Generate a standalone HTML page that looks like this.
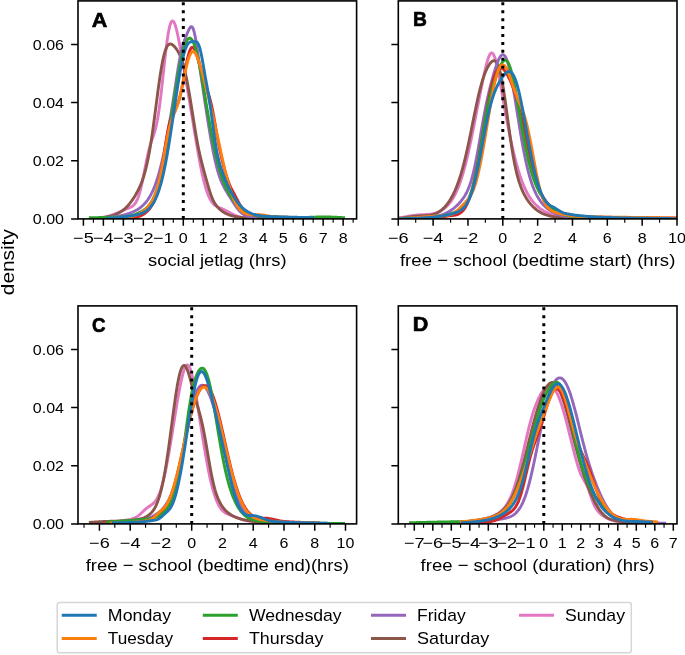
<!DOCTYPE html><html><head><meta charset="utf-8"><style>html,body{margin:0;padding:0;background:#fff;overflow:hidden}svg{display:block;will-change:transform}text{font-family:"Liberation Sans",sans-serif}</style></head><body><svg width="685" height="655" viewBox="0 0 685 655" font-family="Liberation Sans, sans-serif" fill="#000"><defs><clipPath id="cA"><rect x="78.00" y="0.90" width="278.60" height="218.00"/></clipPath><clipPath id="cB"><rect x="398.30" y="0.90" width="278.70" height="218.00"/></clipPath><clipPath id="cC"><rect x="78.00" y="305.90" width="278.60" height="218.00"/></clipPath><clipPath id="cD"><rect x="398.30" y="305.90" width="278.70" height="218.00"/></clipPath></defs><g><g clip-path="url(#cA)" fill="none" stroke-width="2.9" stroke-linejoin="round"><path d="M101.00,217.58 L101.75,217.48 L102.50,217.36 L103.25,217.24 L104.00,217.11 L104.75,216.96 L105.50,216.81 L106.25,216.65 L107.00,216.47 L107.75,216.28 L108.50,216.08 L109.25,215.87 L110.00,215.64 L110.75,215.41 L111.50,215.16 L112.25,214.90 L113.00,214.63 L113.75,214.35 L114.50,214.06 L115.25,213.76 L116.00,213.45 L116.75,213.14 L117.50,212.81 L118.25,212.49 L119.00,212.16 L119.75,211.83 L120.50,211.50 L121.25,211.17 L122.00,210.84 L122.75,210.51 L123.50,210.19 L124.25,209.88 L125.00,209.57 L125.75,209.27 L126.50,208.97 L127.25,208.68 L128.00,208.38 L128.75,208.07 L129.50,207.76 L130.25,207.42 L131.00,207.04 L131.75,206.61 L132.50,206.11 L133.25,205.51 L134.00,204.80 L134.75,203.94 L135.50,202.91 L136.25,201.68 L137.00,200.21 L137.75,198.48 L138.50,196.47 L139.25,194.17 L140.00,191.56 L140.75,188.67 L141.50,185.50 L142.25,182.08 L143.00,178.46 L143.75,174.69 L144.50,170.84 L145.25,166.97 L146.00,163.16 L146.75,159.46 L147.50,155.95 L148.25,152.65 L149.00,149.61 L149.75,146.82 L150.50,144.28 L151.25,141.94 L152.00,139.74 L152.75,137.61 L153.50,135.45 L154.25,133.17 L155.00,130.66 L155.75,127.82 L156.50,124.58 L157.25,120.86 L158.00,116.62 L158.75,111.84 L159.50,106.53 L160.25,100.72 L161.00,94.48 L161.75,87.88 L162.50,81.03 L163.25,74.04 L164.00,67.05 L164.75,60.19 L165.50,53.57 L166.25,47.34 L167.00,41.60 L167.75,36.44 L168.50,31.96 L169.25,28.20 L170.00,25.21 L170.75,23.01 L171.50,21.60 L172.25,20.97 L173.00,21.07 L173.75,21.86 L174.50,23.29 L175.25,25.28 L176.00,27.77 L176.75,30.69 L177.50,33.96 L178.25,37.52 L179.00,41.30 L179.75,45.26 L180.50,49.34 L181.25,53.51 L182.00,57.74 L182.75,62.01 L183.50,66.29 L184.25,70.59 L185.00,74.90 L185.75,79.23 L186.50,83.56 L187.25,87.92 L188.00,92.30 L188.75,96.72 L189.50,101.16 L190.25,105.64 L191.00,110.15 L191.75,114.69 L192.50,119.26 L193.25,123.83 L194.00,128.40 L194.75,132.97 L195.50,137.50 L196.25,141.98 L197.00,146.40 L197.75,150.74 L198.50,154.98 L199.25,159.10 L200.00,163.09 L200.75,166.93 L201.50,170.61 L202.25,174.12 L203.00,177.44 L203.75,180.57 L204.50,183.51 L205.25,186.24 L206.00,188.77 L206.75,191.10 L207.50,193.23 L208.25,195.17 L209.00,196.92 L209.75,198.48 L210.50,199.88 L211.25,201.11 L212.00,202.20 L212.75,203.15 L213.50,203.98 L214.25,204.69 L215.00,205.31 L215.75,205.85 L216.50,206.32 L217.25,206.73 L218.00,207.10 L218.75,207.44 L219.50,207.75 L220.25,208.06 L221.00,208.35 L221.75,208.66 L222.50,208.96 L223.25,209.28 L224.00,209.61 L224.75,209.96 L225.50,210.33 L226.25,210.70 L227.00,211.10 L227.75,211.50 L228.50,211.91 L229.25,212.32 L230.00,212.73 L230.75,213.15 L231.50,213.55 L232.25,213.95 L233.00,214.33 L233.75,214.70 L234.50,215.05 L235.25,215.38 L236.00,215.69 L236.75,215.98 L237.50,216.24 L238.25,216.48 L239.00,216.70 L239.75,216.90 L240.50,217.08 L241.25,217.24 L242.00,217.37 L242.75,217.50 L243.50,217.61 L244.25,217.70 L245.00,217.78 L245.75,217.85 L246.50,217.91 L247.25,217.96 L248.00,218.01 L248.75,218.04 L249.50,218.08 L250.25,218.11 L251.00,218.13 L251.75,218.15 L252.50,218.17 L253.25,218.19 L254.00,218.20 L254.75,218.22 L255.50,218.23 L256.25,218.24 L257.00,218.26 L257.75,218.27 L258.50,218.28 L259.25,218.29 L260.00,218.30 L260.75,218.31 L261.50,218.32 L262.25,218.33 L263.00,218.34 L263.75,218.34 L264.50,218.35 L265.25,218.36 L266.00,218.37 L266.75,218.38 L267.50,218.39 L268.25,218.40 L269.00,218.41 L269.75,218.41 L270.00,218.42" stroke="#e377c2"/><path d="M100.00,217.81 L100.75,217.75 L101.50,217.68 L102.25,217.60 L103.00,217.52 L103.75,217.43 L104.50,217.33 L105.25,217.22 L106.00,217.11 L106.75,216.98 L107.50,216.85 L108.25,216.70 L109.00,216.54 L109.75,216.37 L110.50,216.18 L111.25,215.98 L112.00,215.77 L112.75,215.54 L113.50,215.29 L114.25,215.03 L115.00,214.74 L115.75,214.44 L116.50,214.11 L117.25,213.76 L118.00,213.39 L118.75,212.99 L119.50,212.57 L120.25,212.12 L121.00,211.64 L121.75,211.14 L122.50,210.60 L123.25,210.02 L124.00,209.42 L124.75,208.77 L125.50,208.09 L126.25,207.37 L127.00,206.61 L127.75,205.81 L128.50,204.96 L129.25,204.07 L130.00,203.14 L130.75,202.17 L131.50,201.16 L132.25,200.10 L133.00,199.00 L133.75,197.85 L134.50,196.67 L135.25,195.43 L136.00,194.15 L136.75,192.82 L137.50,191.43 L138.25,189.97 L139.00,188.44 L139.75,186.82 L140.50,185.11 L141.25,183.29 L142.00,181.34 L142.75,179.24 L143.50,176.99 L144.25,174.55 L145.00,171.92 L145.75,169.08 L146.50,166.00 L147.25,162.69 L148.00,159.11 L148.75,155.27 L149.50,151.16 L150.25,146.78 L151.00,142.14 L151.75,137.24 L152.50,132.12 L153.25,126.78 L154.00,121.28 L154.75,115.63 L155.50,109.89 L156.25,104.12 L157.00,98.35 L157.75,92.66 L158.50,87.09 L159.25,81.71 L160.00,76.57 L160.75,71.72 L161.50,67.20 L162.25,63.06 L163.00,59.32 L163.75,56.00 L164.50,53.12 L165.25,50.67 L166.00,48.64 L166.75,47.02 L167.50,45.78 L168.25,44.90 L169.00,44.33 L169.75,44.05 L170.50,44.01 L171.25,44.19 L172.00,44.53 L172.75,45.03 L173.50,45.65 L174.25,46.38 L175.00,47.20 L175.75,48.12 L176.50,49.13 L177.25,50.25 L178.00,51.47 L178.75,52.83 L179.50,54.33 L180.25,56.00 L181.00,57.86 L181.75,59.92 L182.50,62.20 L183.25,64.71 L184.00,67.46 L184.75,70.46 L185.50,73.70 L186.25,77.19 L187.00,80.91 L187.75,84.85 L188.50,88.98 L189.25,93.30 L190.00,97.76 L190.75,102.34 L191.50,107.02 L192.25,111.74 L193.00,116.49 L193.75,121.21 L194.50,125.88 L195.25,130.45 L196.00,134.89 L196.75,139.17 L197.50,143.26 L198.25,147.15 L199.00,150.83 L199.75,154.30 L200.50,157.58 L201.25,160.68 L202.00,163.65 L202.75,166.52 L203.50,169.32 L204.25,172.08 L205.00,174.82 L205.75,177.55 L206.50,180.27 L207.25,182.95 L208.00,185.58 L208.75,188.13 L209.50,190.56 L210.25,192.86 L211.00,195.00 L211.75,196.97 L212.50,198.77 L213.25,200.40 L214.00,201.86 L214.75,203.18 L215.50,204.37 L216.25,205.43 L217.00,206.40 L217.75,207.28 L218.50,208.09 L219.25,208.83 L220.00,209.51 L220.75,210.14 L221.50,210.73 L222.25,211.27 L223.00,211.78 L223.75,212.26 L224.50,212.70 L225.25,213.11 L226.00,213.50 L226.75,213.86 L227.50,214.19 L228.25,214.50 L229.00,214.79 L229.75,215.07 L230.50,215.32 L231.25,215.55 L232.00,215.77 L232.75,215.97 L233.50,216.16 L234.25,216.33 L235.00,216.49 L235.75,216.64 L236.50,216.77 L237.25,216.90 L238.00,217.02 L238.75,217.12 L239.50,217.22 L240.25,217.31 L241.00,217.40 L241.75,217.47 L242.50,217.55 L243.25,217.61 L244.00,217.67 L244.75,217.72 L245.50,217.77 L246.25,217.82 L247.00,217.86 L247.75,217.90 L248.50,217.93 L249.25,217.97 L250.00,218.00 L250.75,218.02 L251.50,218.05 L252.25,218.07 L253.00,218.09 L253.75,218.11 L254.50,218.13 L255.25,218.14 L256.00,218.16 L256.75,218.17 L257.50,218.19 L258.25,218.20 L259.00,218.21 L259.75,218.22 L260.50,218.23 L261.25,218.24 L262.00,218.25 L262.75,218.26 L263.50,218.26 L264.25,218.27 L265.00,218.28 L265.75,218.28 L266.50,218.29 L267.25,218.30 L268.00,218.30 L268.75,218.31 L269.50,218.32 L270.25,218.32 L271.00,218.33 L271.75,218.33 L272.50,218.34 L273.25,218.34 L274.00,218.35 L274.75,218.35 L275.50,218.36 L276.25,218.36 L277.00,218.37 L277.75,218.37 L278.50,218.38 L279.25,218.38 L280.00,218.39" stroke="#8c564b"/><path d="M105.00,217.64 L105.75,217.59 L106.50,217.54 L107.25,217.48 L108.00,217.42 L108.75,217.36 L109.50,217.29 L110.25,217.22 L111.00,217.15 L111.75,217.07 L112.50,216.98 L113.25,216.89 L114.00,216.80 L114.75,216.70 L115.50,216.60 L116.25,216.49 L117.00,216.38 L117.75,216.25 L118.50,216.13 L119.25,215.99 L120.00,215.85 L120.75,215.70 L121.50,215.54 L122.25,215.38 L123.00,215.21 L123.75,215.03 L124.50,214.83 L125.25,214.63 L126.00,214.42 L126.75,214.20 L127.50,213.97 L128.25,213.73 L129.00,213.48 L129.75,213.21 L130.50,212.93 L131.25,212.63 L132.00,212.33 L132.75,212.00 L133.50,211.66 L134.25,211.30 L135.00,210.92 L135.75,210.52 L136.50,210.10 L137.25,209.66 L138.00,209.19 L138.75,208.70 L139.50,208.18 L140.25,207.62 L141.00,207.03 L141.75,206.41 L142.50,205.75 L143.25,205.04 L144.00,204.29 L144.75,203.50 L145.50,202.65 L146.25,201.74 L147.00,200.77 L147.75,199.74 L148.50,198.64 L149.25,197.47 L150.00,196.22 L150.75,194.88 L151.50,193.45 L152.25,191.93 L153.00,190.32 L153.75,188.59 L154.50,186.76 L155.25,184.82 L156.00,182.75 L156.75,180.56 L157.50,178.25 L158.25,175.80 L159.00,173.22 L159.75,170.50 L160.50,167.65 L161.25,164.65 L162.00,161.51 L162.75,158.23 L163.50,154.82 L164.25,151.27 L165.00,147.58 L165.75,143.77 L166.50,139.83 L167.25,135.78 L168.00,131.61 L168.75,127.34 L169.50,122.97 L170.25,118.51 L171.00,113.96 L171.75,109.33 L172.50,104.62 L173.25,99.83 L174.00,94.97 L174.75,90.06 L175.50,85.13 L176.25,80.20 L177.00,75.33 L177.75,70.57 L178.50,65.99 L179.25,61.65 L180.00,57.60 L180.75,53.90 L181.50,50.56 L182.25,47.57 L183.00,44.91 L183.75,42.53 L184.50,40.37 L185.25,38.36 L186.00,36.43 L186.75,34.56 L187.50,32.74 L188.25,30.98 L189.00,29.38 L189.75,28.02 L190.50,27.05 L191.25,26.62 L192.00,26.84 L192.75,27.83 L193.50,29.65 L194.25,32.28 L195.00,35.69 L195.75,39.75 L196.50,44.34 L197.25,49.30 L198.00,54.51 L198.75,59.82 L199.50,65.15 L200.25,70.45 L201.00,75.67 L201.75,80.81 L202.50,85.88 L203.25,90.89 L204.00,95.85 L204.75,100.76 L205.50,105.65 L206.25,110.49 L207.00,115.29 L207.75,120.03 L208.50,124.70 L209.25,129.28 L210.00,133.77 L210.75,138.13 L211.50,142.37 L212.25,146.45 L213.00,150.38 L213.75,154.13 L214.50,157.71 L215.25,161.09 L216.00,164.28 L216.75,167.28 L217.50,170.08 L218.25,172.68 L219.00,175.09 L219.75,177.33 L220.50,179.39 L221.25,181.29 L222.00,183.05 L222.75,184.68 L223.50,186.20 L224.25,187.63 L225.00,188.98 L225.75,190.28 L226.50,191.53 L227.25,192.75 L228.00,193.96 L228.75,195.16 L229.50,196.36 L230.25,197.56 L231.00,198.76 L231.75,199.97 L232.50,201.17 L233.25,202.37 L234.00,203.55 L234.75,204.71 L235.50,205.83 L236.25,206.92 L237.00,207.95 L237.75,208.94 L238.50,209.86 L239.25,210.72 L240.00,211.51 L240.75,212.23 L241.50,212.89 L242.25,213.48 L243.00,214.01 L243.75,214.47 L244.50,214.89 L245.25,215.25 L246.00,215.56 L246.75,215.84 L247.50,216.07 L248.25,216.28 L249.00,216.46 L249.75,216.61 L250.50,216.74 L251.25,216.86 L252.00,216.96 L252.75,217.05 L253.50,217.13 L254.25,217.20 L255.00,217.26 L255.75,217.32 L256.50,217.37 L257.25,217.41 L258.00,217.46 L258.75,217.49 L259.50,217.53 L260.25,217.57 L261.00,217.60 L261.75,217.63 L262.50,217.65 L263.25,217.68 L264.00,217.71 L264.75,217.73 L265.50,217.75 L266.25,217.77 L267.00,217.79 L267.75,217.81 L268.50,217.83 L269.25,217.85 L270.00,217.86 L270.75,217.88 L271.50,217.89 L272.25,217.91 L273.00,217.92 L273.75,217.94 L274.50,217.95 L275.25,217.96 L276.00,217.98 L276.75,217.99 L277.50,218.00 L278.25,218.01 L279.00,218.02 L279.75,218.03 L280.50,218.05 L281.25,218.06 L282.00,218.07 L282.75,218.08 L283.50,218.09 L284.25,218.10 L285.00,218.11 L285.75,218.12 L286.50,218.13 L287.25,218.14 L288.00,218.15 L288.75,218.15 L289.50,218.16 L290.00,218.17" stroke="#9467bd"/><path d="M112.00,218.87 L112.75,218.87 L113.50,218.87 L114.25,218.86 L115.00,218.86 L115.75,218.85 L116.50,218.84 L117.25,218.83 L118.00,218.82 L118.75,218.81 L119.50,218.80 L120.25,218.79 L121.00,218.77 L121.75,218.75 L122.50,218.73 L123.25,218.71 L124.00,218.68 L124.75,218.65 L125.50,218.61 L126.25,218.57 L127.00,218.53 L127.75,218.48 L128.50,218.42 L129.25,218.35 L130.00,218.28 L130.75,218.20 L131.50,218.11 L132.25,218.01 L133.00,217.90 L133.75,217.77 L134.50,217.63 L135.25,217.47 L136.00,217.30 L136.75,217.11 L137.50,216.90 L138.25,216.67 L139.00,216.41 L139.75,216.12 L140.50,215.81 L141.25,215.47 L142.00,215.10 L142.75,214.69 L143.50,214.24 L144.25,213.75 L145.00,213.22 L145.75,212.63 L146.50,212.00 L147.25,211.31 L148.00,210.56 L148.75,209.74 L149.50,208.84 L150.25,207.85 L151.00,206.77 L151.75,205.57 L152.50,204.25 L153.25,202.78 L154.00,201.15 L154.75,199.32 L155.50,197.27 L156.25,194.99 L157.00,192.43 L157.75,189.58 L158.50,186.43 L159.25,182.96 L160.00,179.17 L160.75,175.07 L161.50,170.69 L162.25,166.06 L163.00,161.25 L163.75,156.31 L164.50,151.33 L165.25,146.39 L166.00,141.59 L166.75,136.99 L167.50,132.70 L168.25,128.75 L169.00,125.21 L169.75,122.10 L170.50,119.40 L171.25,117.11 L172.00,115.17 L172.75,113.51 L173.50,112.07 L174.25,110.76 L175.00,109.47 L175.75,108.14 L176.50,106.66 L177.25,104.98 L178.00,103.03 L178.75,100.78 L179.50,98.21 L180.25,95.30 L181.00,92.07 L181.75,88.55 L182.50,84.79 L183.25,80.84 L184.00,76.77 L184.75,72.66 L185.50,68.60 L186.25,64.68 L187.00,60.99 L187.75,57.61 L188.50,54.61 L189.25,52.08 L190.00,50.06 L190.75,48.58 L191.50,47.66 L192.25,47.31 L193.00,47.50 L193.75,48.20 L194.50,49.37 L195.25,50.95 L196.00,52.88 L196.75,55.09 L197.50,57.52 L198.25,60.12 L199.00,62.83 L199.75,65.61 L200.50,68.41 L201.25,71.20 L202.00,73.95 L202.75,76.64 L203.50,79.23 L204.25,81.71 L205.00,84.09 L205.75,86.36 L206.50,88.54 L207.25,90.68 L208.00,92.83 L208.75,95.06 L209.50,97.45 L210.25,100.08 L211.00,102.99 L211.75,106.24 L212.50,109.81 L213.25,113.68 L214.00,117.81 L214.75,122.10 L215.50,126.47 L216.25,130.85 L217.00,135.15 L217.75,139.32 L218.50,143.33 L219.25,147.16 L220.00,150.80 L220.75,154.27 L221.50,157.58 L222.25,160.73 L223.00,163.75 L223.75,166.64 L224.50,169.41 L225.25,172.06 L226.00,174.57 L226.75,176.96 L227.50,179.20 L228.25,181.31 L229.00,183.27 L229.75,185.09 L230.50,186.77 L231.25,188.35 L232.00,189.84 L232.75,191.27 L233.50,192.67 L234.25,194.06 L235.00,195.46 L235.75,196.88 L236.50,198.33 L237.25,199.78 L238.00,201.22 L238.75,202.62 L239.50,203.97 L240.25,205.23 L241.00,206.40 L241.75,207.47 L242.50,208.43 L243.25,209.28 L244.00,210.05 L244.75,210.73 L245.50,211.33 L246.25,211.87 L247.00,212.36 L247.75,212.79 L248.50,213.19 L249.25,213.54 L250.00,213.87 L250.75,214.16 L251.50,214.43 L252.25,214.68 L253.00,214.90 L253.75,215.10 L254.50,215.28 L255.25,215.45 L256.00,215.60 L256.75,215.73 L257.50,215.85 L258.25,215.97 L259.00,216.07 L259.75,216.16 L260.50,216.24 L261.25,216.32 L262.00,216.38 L262.75,216.45 L263.50,216.50 L264.25,216.56 L265.00,216.60 L265.75,216.65 L266.50,216.69 L267.25,216.73 L268.00,216.76 L268.75,216.80 L269.50,216.83 L270.25,216.86 L271.00,216.89 L271.75,216.92 L272.50,216.94 L273.25,216.97 L274.00,216.99 L274.75,217.02 L275.50,217.04 L276.25,217.07 L277.00,217.09 L277.75,217.11 L278.50,217.14 L279.25,217.16 L280.00,217.18 L280.75,217.20 L281.50,217.23 L282.25,217.25 L283.00,217.27 L283.75,217.30 L284.50,217.32 L285.25,217.34 L286.00,217.37 L286.75,217.39 L287.50,217.41 L288.25,217.44 L289.00,217.46 L289.75,217.48 L290.50,217.51 L291.25,217.53 L292.00,217.56 L292.75,217.58 L293.50,217.60 L294.25,217.63 L295.00,217.65 L295.75,217.67 L296.50,217.70 L297.25,217.72 L298.00,217.74 L298.75,217.77 L299.50,217.79 L300.00,217.81" stroke="#d62728"/><path d="M88.80,217.84 L89.55,217.82 L90.30,217.79 L91.05,217.77 L91.80,217.75 L92.55,217.73 L93.30,217.71 L94.05,217.69 L94.80,217.67 L95.55,217.65 L96.30,217.63 L97.05,217.61 L97.80,217.59 L98.55,217.57 L99.30,217.55 L100.05,217.53 L100.80,217.51 L101.55,217.49 L102.30,217.47 L103.05,217.45 L103.80,217.44 L104.55,217.42 L105.30,217.40 L106.05,217.38 L106.80,217.37 L107.55,217.35 L108.30,217.34 L109.05,217.32 L109.80,217.31 L110.55,217.29 L111.30,217.28 L112.05,217.26 L112.80,217.25 L113.55,217.23 L114.30,217.21 L115.05,217.20 L115.80,217.18 L116.55,217.16 L117.30,217.14 L118.05,217.12 L118.80,217.10 L119.55,217.07 L120.30,217.03 L121.05,217.00 L121.80,216.96 L122.55,216.91 L123.30,216.85 L124.05,216.79 L124.80,216.71 L125.55,216.63 L126.30,216.53 L127.05,216.42 L127.80,216.30 L128.55,216.17 L129.30,216.02 L130.05,215.86 L130.80,215.68 L131.55,215.48 L132.30,215.27 L133.05,215.04 L133.80,214.80 L134.55,214.54 L135.30,214.27 L136.05,213.98 L136.80,213.67 L137.55,213.36 L138.30,213.03 L139.05,212.68 L139.80,212.32 L140.55,211.94 L141.30,211.54 L142.05,211.11 L142.80,210.67 L143.55,210.19 L144.30,209.68 L145.05,209.13 L145.80,208.53 L146.55,207.89 L147.30,207.18 L148.05,206.41 L148.80,205.56 L149.55,204.63 L150.30,203.60 L151.05,202.48 L151.80,201.25 L152.55,199.90 L153.30,198.43 L154.05,196.83 L154.80,195.09 L155.55,193.20 L156.30,191.16 L157.05,188.97 L157.80,186.62 L158.55,184.10 L159.30,181.42 L160.05,178.57 L160.80,175.56 L161.55,172.38 L162.30,169.03 L163.05,165.52 L163.80,161.85 L164.55,158.02 L165.30,154.05 L166.05,149.94 L166.80,145.69 L167.55,141.33 L168.30,136.85 L169.05,132.28 L169.80,127.62 L170.55,122.89 L171.30,118.11 L172.05,113.29 L172.80,108.45 L173.55,103.62 L174.30,98.80 L175.05,94.03 L175.80,89.32 L176.55,84.69 L177.30,80.16 L178.05,75.77 L178.80,71.52 L179.55,67.45 L180.30,63.56 L181.05,59.89 L181.80,56.45 L182.55,53.25 L183.30,50.33 L184.05,47.69 L184.80,45.35 L185.55,43.32 L186.30,41.61 L187.05,40.24 L187.80,39.20 L188.55,38.51 L189.30,38.17 L190.05,38.18 L190.80,38.54 L191.55,39.24 L192.30,40.29 L193.05,41.66 L193.80,43.37 L194.55,45.38 L195.30,47.69 L196.05,50.29 L196.80,53.16 L197.55,56.27 L198.30,59.62 L199.05,63.18 L199.80,66.93 L200.55,70.85 L201.30,74.92 L202.05,79.11 L202.80,83.40 L203.55,87.78 L204.30,92.21 L205.05,96.69 L205.80,101.18 L206.55,105.66 L207.30,110.13 L208.05,114.56 L208.80,118.93 L209.55,123.23 L210.30,127.45 L211.05,131.57 L211.80,135.58 L212.55,139.48 L213.30,143.26 L214.05,146.91 L214.80,150.42 L215.55,153.80 L216.30,157.04 L217.05,160.13 L217.80,163.09 L218.55,165.91 L219.30,168.60 L220.05,171.15 L220.80,173.58 L221.55,175.89 L222.30,178.07 L223.05,180.15 L223.80,182.11 L224.55,183.98 L225.30,185.75 L226.05,187.43 L226.80,189.03 L227.55,190.54 L228.30,191.99 L229.05,193.37 L229.80,194.68 L230.55,195.93 L231.30,197.12 L232.05,198.27 L232.80,199.36 L233.55,200.40 L234.30,201.40 L235.05,202.36 L235.80,203.27 L236.55,204.14 L237.30,204.98 L238.05,205.77 L238.80,206.53 L239.55,207.25 L240.30,207.94 L241.05,208.59 L241.80,209.20 L242.55,209.78 L243.30,210.33 L244.05,210.85 L244.80,211.33 L245.55,211.78 L246.30,212.21 L247.05,212.60 L247.80,212.97 L248.55,213.31 L249.30,213.63 L250.05,213.92 L250.80,214.18 L251.55,214.43 L252.30,214.66 L253.05,214.87 L253.80,215.06 L254.55,215.23 L255.30,215.39 L256.05,215.53 L256.80,215.67 L257.55,215.79 L258.30,215.90 L259.05,216.00 L259.80,216.09 L260.55,216.18 L261.30,216.26 L262.05,216.33 L262.80,216.40 L263.55,216.47 L264.30,216.53 L265.05,216.58 L265.80,216.64 L266.55,216.69 L267.30,216.73 L268.05,216.78 L268.80,216.83 L269.55,216.87 L270.30,216.91 L271.05,216.95 L271.80,216.99 L272.55,217.03 L273.30,217.07 L274.05,217.10 L274.80,217.14 L275.55,217.17 L276.30,217.21 L277.05,217.24 L277.80,217.27 L278.55,217.30 L279.30,217.33 L280.05,217.36 L280.80,217.39 L281.55,217.41 L282.30,217.44 L283.05,217.46 L283.80,217.49 L284.55,217.51 L285.30,217.53 L286.05,217.54 L286.80,217.56 L287.55,217.58 L288.30,217.59 L289.05,217.60 L289.80,217.61 L290.55,217.62 L291.30,217.63 L292.05,217.63 L292.80,217.64 L293.55,217.64 L294.30,217.64 L295.05,217.63 L295.80,217.63 L296.55,217.62 L297.30,217.62 L298.05,217.61 L298.80,217.60 L299.55,217.58 L300.30,217.57 L301.05,217.55 L301.80,217.54 L302.55,217.52 L303.30,217.50 L304.05,217.48 L304.80,217.46 L305.55,217.43 L306.30,217.41 L307.05,217.38 L307.80,217.36 L308.55,217.33 L309.30,217.31 L310.05,217.28 L310.80,217.26 L311.55,217.23 L312.30,217.21 L313.05,217.18 L313.80,217.16 L314.55,217.14 L315.30,217.11 L316.05,217.09 L316.80,217.07 L317.55,217.06 L318.30,217.04 L319.05,217.02 L319.80,217.01 L320.55,217.00 L321.30,216.99 L322.05,216.98 L322.80,216.97 L323.55,216.97 L324.30,216.97 L325.05,216.97 L325.80,216.98 L326.55,216.98 L327.30,216.99 L328.05,217.00 L328.80,217.01 L329.55,217.03 L330.30,217.05 L331.05,217.07 L331.80,217.09 L332.55,217.12 L333.30,217.14 L334.05,217.17 L334.80,217.20 L335.55,217.23 L336.30,217.27 L337.05,217.30 L337.80,217.34 L338.55,217.38 L339.30,217.42 L340.05,217.46 L340.80,217.50 L341.55,217.54 L342.30,217.59 L343.05,217.63 L343.80,217.67 L344.55,217.72 L345.00,217.74" stroke="#2ca02c"/><path d="M106.00,218.41 L106.75,218.40 L107.50,218.39 L108.25,218.37 L109.00,218.36 L109.75,218.34 L110.50,218.32 L111.25,218.30 L112.00,218.28 L112.75,218.26 L113.50,218.24 L114.25,218.21 L115.00,218.19 L115.75,218.16 L116.50,218.13 L117.25,218.10 L118.00,218.06 L118.75,218.02 L119.50,217.98 L120.25,217.93 L121.00,217.88 L121.75,217.83 L122.50,217.77 L123.25,217.70 L124.00,217.63 L124.75,217.55 L125.50,217.46 L126.25,217.37 L127.00,217.27 L127.75,217.15 L128.50,217.03 L129.25,216.90 L130.00,216.75 L130.75,216.60 L131.50,216.42 L132.25,216.24 L133.00,216.04 L133.75,215.82 L134.50,215.58 L135.25,215.32 L136.00,215.05 L136.75,214.75 L137.50,214.43 L138.25,214.08 L139.00,213.71 L139.75,213.31 L140.50,212.89 L141.25,212.44 L142.00,211.95 L142.75,211.43 L143.50,210.88 L144.25,210.30 L145.00,209.67 L145.75,209.01 L146.50,208.30 L147.25,207.55 L148.00,206.75 L148.75,205.89 L149.50,204.96 L150.25,203.97 L151.00,202.89 L151.75,201.71 L152.50,200.43 L153.25,199.02 L154.00,197.46 L154.75,195.74 L155.50,193.84 L156.25,191.72 L157.00,189.38 L157.75,186.79 L158.50,183.95 L159.25,180.84 L160.00,177.47 L160.75,173.86 L161.50,170.01 L162.25,165.97 L163.00,161.77 L163.75,157.47 L164.50,153.12 L165.25,148.80 L166.00,144.56 L166.75,140.47 L167.50,136.58 L168.25,132.94 L169.00,129.59 L169.75,126.54 L170.50,123.80 L171.25,121.33 L172.00,119.12 L172.75,117.10 L173.50,115.23 L174.25,113.44 L175.00,111.65 L175.75,109.81 L176.50,107.85 L177.25,105.72 L178.00,103.38 L178.75,100.82 L179.50,98.02 L180.25,94.98 L181.00,91.74 L181.75,88.33 L182.50,84.79 L183.25,81.17 L184.00,77.54 L184.75,73.95 L185.50,70.47 L186.25,67.15 L187.00,64.05 L187.75,61.22 L188.50,58.70 L189.25,56.53 L190.00,54.74 L190.75,53.33 L191.50,52.33 L192.25,51.73 L193.00,51.53 L193.75,51.72 L194.50,52.28 L195.25,53.19 L196.00,54.42 L196.75,55.93 L197.50,57.71 L198.25,59.72 L199.00,61.93 L199.75,64.31 L200.50,66.82 L201.25,69.45 L202.00,72.17 L202.75,74.96 L203.50,77.80 L204.25,80.68 L205.00,83.60 L205.75,86.54 L206.50,89.50 L207.25,92.49 L208.00,95.49 L208.75,98.52 L209.50,101.58 L210.25,104.66 L211.00,107.78 L211.75,110.94 L212.50,114.14 L213.25,117.38 L214.00,120.67 L214.75,124.00 L215.50,127.37 L216.25,130.77 L217.00,134.21 L217.75,137.67 L218.50,141.14 L219.25,144.62 L220.00,148.09 L220.75,151.55 L221.50,154.99 L222.25,158.39 L223.00,161.73 L223.75,165.02 L224.50,168.23 L225.25,171.37 L226.00,174.41 L226.75,177.35 L227.50,180.18 L228.25,182.91 L229.00,185.51 L229.75,187.99 L230.50,190.34 L231.25,192.57 L232.00,194.66 L232.75,196.63 L233.50,198.47 L234.25,200.18 L235.00,201.77 L235.75,203.24 L236.50,204.60 L237.25,205.84 L238.00,206.98 L238.75,208.01 L239.50,208.95 L240.25,209.80 L241.00,210.55 L241.75,211.23 L242.50,211.83 L243.25,212.36 L244.00,212.82 L244.75,213.22 L245.50,213.56 L246.25,213.85 L247.00,214.09 L247.75,214.29 L248.50,214.44 L249.25,214.56 L250.00,214.64 L250.75,214.70 L251.50,214.73 L252.25,214.74 L253.00,214.74 L253.75,214.73 L254.50,214.71 L255.25,214.69 L256.00,214.67 L256.75,214.66 L257.50,214.65 L258.25,214.66 L259.00,214.67 L259.75,214.71 L260.50,214.75 L261.25,214.82 L262.00,214.90 L262.75,214.99 L263.50,215.09 L264.25,215.20 L265.00,215.32 L265.75,215.45 L266.50,215.58 L267.25,215.71 L268.00,215.84 L268.75,215.96 L269.50,216.08 L270.25,216.20 L271.00,216.31 L271.75,216.41 L272.50,216.50 L273.25,216.59 L274.00,216.66 L274.75,216.73 L275.50,216.79 L276.25,216.85 L277.00,216.90 L277.75,216.94 L278.50,216.98 L279.25,217.02 L280.00,217.05 L280.75,217.08 L281.50,217.11 L282.25,217.13 L283.00,217.16 L283.75,217.18 L284.50,217.20 L285.25,217.22 L286.00,217.24 L286.75,217.26 L287.50,217.28 L288.25,217.30 L289.00,217.32 L289.75,217.34 L290.50,217.36 L291.25,217.38 L292.00,217.40 L292.75,217.42 L293.50,217.44 L294.25,217.46 L295.00,217.47 L295.75,217.49 L296.50,217.51 L297.25,217.53 L298.00,217.55 L298.75,217.57 L299.50,217.59 L300.00,217.60" stroke="#ff7f0e"/><path d="M106.00,218.30 L106.75,218.26 L107.50,218.22 L108.25,218.19 L109.00,218.15 L109.75,218.10 L110.50,218.06 L111.25,218.01 L112.00,217.97 L112.75,217.92 L113.50,217.86 L114.25,217.81 L115.00,217.75 L115.75,217.69 L116.50,217.63 L117.25,217.57 L118.00,217.50 L118.75,217.43 L119.50,217.36 L120.25,217.29 L121.00,217.21 L121.75,217.13 L122.50,217.05 L123.25,216.97 L124.00,216.88 L124.75,216.79 L125.50,216.69 L126.25,216.59 L127.00,216.49 L127.75,216.39 L128.50,216.28 L129.25,216.16 L130.00,216.05 L130.75,215.92 L131.50,215.80 L132.25,215.66 L133.00,215.52 L133.75,215.38 L134.50,215.22 L135.25,215.06 L136.00,214.89 L136.75,214.71 L137.50,214.52 L138.25,214.32 L139.00,214.10 L139.75,213.87 L140.50,213.62 L141.25,213.35 L142.00,213.05 L142.75,212.73 L143.50,212.39 L144.25,212.01 L145.00,211.59 L145.75,211.14 L146.50,210.64 L147.25,210.09 L148.00,209.49 L148.75,208.83 L149.50,208.10 L150.25,207.30 L151.00,206.42 L151.75,205.45 L152.50,204.39 L153.25,203.23 L154.00,201.96 L154.75,200.57 L155.50,199.06 L156.25,197.41 L157.00,195.62 L157.75,193.68 L158.50,191.59 L159.25,189.33 L160.00,186.91 L160.75,184.31 L161.50,181.53 L162.25,178.56 L163.00,175.41 L163.75,172.08 L164.50,168.56 L165.25,164.85 L166.00,160.96 L166.75,156.90 L167.50,152.67 L168.25,148.28 L169.00,143.74 L169.75,139.07 L170.50,134.28 L171.25,129.38 L172.00,124.40 L172.75,119.36 L173.50,114.28 L174.25,109.18 L175.00,104.08 L175.75,99.03 L176.50,94.03 L177.25,89.13 L178.00,84.34 L178.75,79.71 L179.50,75.24 L180.25,70.98 L181.00,66.94 L181.75,63.16 L182.50,59.65 L183.25,56.44 L184.00,53.55 L184.75,50.98 L185.50,48.75 L186.25,46.86 L187.00,45.31 L187.75,44.08 L188.50,43.15 L189.25,42.50 L190.00,42.07 L190.75,41.83 L191.50,41.70 L192.25,41.65 L193.00,41.63 L193.75,41.62 L194.50,41.62 L195.25,41.66 L196.00,41.81 L196.75,42.17 L197.50,42.86 L198.25,43.98 L199.00,45.64 L199.75,47.91 L200.50,50.78 L201.25,54.20 L202.00,58.08 L202.75,62.27 L203.50,66.61 L204.25,70.97 L205.00,75.25 L205.75,79.43 L206.50,83.51 L207.25,87.60 L208.00,91.79 L208.75,96.21 L209.50,100.94 L210.25,106.01 L211.00,111.40 L211.75,117.02 L212.50,122.75 L213.25,128.44 L214.00,133.95 L214.75,139.17 L215.50,144.00 L216.25,148.41 L217.00,152.40 L217.75,155.98 L218.50,159.22 L219.25,162.15 L220.00,164.83 L220.75,167.31 L221.50,169.63 L222.25,171.82 L223.00,173.90 L223.75,175.90 L224.50,177.82 L225.25,179.67 L226.00,181.46 L226.75,183.18 L227.50,184.85 L228.25,186.47 L229.00,188.03 L229.75,189.54 L230.50,190.99 L231.25,192.40 L232.00,193.75 L232.75,195.06 L233.50,196.32 L234.25,197.53 L235.00,198.69 L235.75,199.80 L236.50,200.87 L237.25,201.89 L238.00,202.86 L238.75,203.79 L239.50,204.67 L240.25,205.50 L241.00,206.30 L241.75,207.05 L242.50,207.76 L243.25,208.43 L244.00,209.06 L244.75,209.65 L245.50,210.21 L246.25,210.72 L247.00,211.21 L247.75,211.66 L248.50,212.08 L249.25,212.48 L250.00,212.84 L250.75,213.17 L251.50,213.49 L252.25,213.77 L253.00,214.04 L253.75,214.28 L254.50,214.51 L255.25,214.71 L256.00,214.90 L256.75,215.07 L257.50,215.23 L258.25,215.38 L259.00,215.51 L259.75,215.63 L260.50,215.74 L261.25,215.84 L262.00,215.93 L262.75,216.02 L263.50,216.09 L264.25,216.16 L265.00,216.23 L265.75,216.29 L266.50,216.34 L267.25,216.39 L268.00,216.44 L268.75,216.48 L269.50,216.52 L270.25,216.55 L271.00,216.59 L271.75,216.62 L272.50,216.65 L273.25,216.68 L274.00,216.70 L274.75,216.73 L275.50,216.75 L276.25,216.78 L277.00,216.80 L277.75,216.82 L278.50,216.84 L279.25,216.86 L280.00,216.88 L280.75,216.90 L281.50,216.92 L282.25,216.94 L283.00,216.96 L283.75,216.98 L284.50,217.00 L285.25,217.02 L286.00,217.03 L286.75,217.05 L287.50,217.07 L288.25,217.09 L289.00,217.11 L289.75,217.12 L290.50,217.14 L291.25,217.16 L292.00,217.18 L292.75,217.20 L293.50,217.22 L294.25,217.24 L295.00,217.25 L295.75,217.27 L296.50,217.29 L297.25,217.31 L298.00,217.33 L298.75,217.35 L299.50,217.37 L300.25,217.39 L301.00,217.41 L301.75,217.43 L302.50,217.45 L303.25,217.47 L304.00,217.49 L304.75,217.51 L305.50,217.53 L306.25,217.54 L307.00,217.56 L307.75,217.58 L308.50,217.60 L309.25,217.62 L310.00,217.64 L310.75,217.66 L311.50,217.68 L312.25,217.70 L313.00,217.72 L313.75,217.74 L314.00,217.75" stroke="#1f77b4"/><line x1="183.30" y1="218.90" x2="183.30" y2="0.90" stroke="#000" stroke-width="2.98" stroke-dasharray="2.98 4.93"/></g><path d="M83.40,218.90v6.9M103.38,218.90v6.9M123.36,218.90v6.9M143.34,218.90v6.9M163.32,218.90v6.9M183.30,218.90v6.9M203.28,218.90v6.9M223.26,218.90v6.9M243.24,218.90v6.9M263.22,218.90v6.9M283.20,218.90v6.9M303.18,218.90v6.9M323.16,218.90v6.9M343.14,218.90v6.9M78.00,218.90h-6.9M78.00,160.76h-6.9M78.00,102.62h-6.9M78.00,44.48h-6.9" stroke="#000" stroke-width="1.5" fill="none"/><path d="M93.39,218.90v3.8M113.37,218.90v3.8M133.35,218.90v3.8M153.33,218.90v3.8M173.31,218.90v3.8M193.29,218.90v3.8M213.27,218.90v3.8M233.25,218.90v3.8M253.23,218.90v3.8M273.21,218.90v3.8M293.19,218.90v3.8M313.17,218.90v3.8M333.15,218.90v3.8M353.13,218.90v3.8" stroke="#000" stroke-width="1.15" fill="none"/><rect x="78.00" y="0.90" width="278.60" height="218.00" fill="none" stroke="#000" stroke-width="1.6"/><text x="83.40" y="243.00" font-size="14.84" text-anchor="middle" textLength="20.64" lengthAdjust="spacingAndGlyphs">−5</text><text x="103.38" y="243.00" font-size="14.84" text-anchor="middle" textLength="20.64" lengthAdjust="spacingAndGlyphs">−4</text><text x="123.36" y="243.00" font-size="14.84" text-anchor="middle" textLength="20.64" lengthAdjust="spacingAndGlyphs">−3</text><text x="143.34" y="243.00" font-size="14.84" text-anchor="middle" textLength="20.64" lengthAdjust="spacingAndGlyphs">−2</text><text x="163.32" y="243.00" font-size="14.84" text-anchor="middle" textLength="20.64" lengthAdjust="spacingAndGlyphs">−1</text><text x="183.30" y="243.00" font-size="14.84" text-anchor="middle" textLength="8.91" lengthAdjust="spacingAndGlyphs">0</text><text x="203.28" y="243.00" font-size="14.84" text-anchor="middle" textLength="8.91" lengthAdjust="spacingAndGlyphs">1</text><text x="223.26" y="243.00" font-size="14.84" text-anchor="middle" textLength="8.91" lengthAdjust="spacingAndGlyphs">2</text><text x="243.24" y="243.00" font-size="14.84" text-anchor="middle" textLength="8.91" lengthAdjust="spacingAndGlyphs">3</text><text x="263.22" y="243.00" font-size="14.84" text-anchor="middle" textLength="8.91" lengthAdjust="spacingAndGlyphs">4</text><text x="283.20" y="243.00" font-size="14.84" text-anchor="middle" textLength="8.91" lengthAdjust="spacingAndGlyphs">5</text><text x="303.18" y="243.00" font-size="14.84" text-anchor="middle" textLength="8.91" lengthAdjust="spacingAndGlyphs">6</text><text x="323.16" y="243.00" font-size="14.84" text-anchor="middle" textLength="8.91" lengthAdjust="spacingAndGlyphs">7</text><text x="343.14" y="243.00" font-size="14.84" text-anchor="middle" textLength="8.91" lengthAdjust="spacingAndGlyphs">8</text><text x="64.00" y="224.20" font-size="14.84" text-anchor="end" textLength="31.17" lengthAdjust="spacingAndGlyphs">0.00</text><text x="64.00" y="166.06" font-size="14.84" text-anchor="end" textLength="31.17" lengthAdjust="spacingAndGlyphs">0.02</text><text x="64.00" y="107.92" font-size="14.84" text-anchor="end" textLength="31.17" lengthAdjust="spacingAndGlyphs">0.04</text><text x="64.00" y="49.78" font-size="14.84" text-anchor="end" textLength="31.17" lengthAdjust="spacingAndGlyphs">0.06</text><text x="217.30" y="266.40" font-size="16.96" text-anchor="middle" textLength="138.41" lengthAdjust="spacingAndGlyphs">social jetlag (hrs)</text><text transform="translate(91.68,26.60) scale(0.216,0.204)" font-size="100" font-weight="bold" stroke="#000" stroke-width="3.4" stroke-linejoin="round">A</text></g><g><g clip-path="url(#cB)" fill="none" stroke-width="2.9" stroke-linejoin="round"><path d="M396.30,218.17 L397.05,218.09 L397.80,218.00 L398.55,217.91 L399.30,217.81 L400.05,217.70 L400.80,217.59 L401.55,217.47 L402.30,217.35 L403.05,217.23 L403.80,217.10 L404.55,216.96 L405.30,216.83 L406.05,216.69 L406.80,216.56 L407.55,216.42 L408.30,216.28 L409.05,216.15 L409.80,216.02 L410.55,215.89 L411.30,215.77 L412.05,215.65 L412.80,215.54 L413.55,215.43 L414.30,215.33 L415.05,215.24 L415.80,215.16 L416.55,215.08 L417.30,215.01 L418.05,214.94 L418.80,214.89 L419.55,214.84 L420.30,214.79 L421.05,214.75 L421.80,214.72 L422.55,214.68 L423.30,214.65 L424.05,214.62 L424.80,214.59 L425.55,214.55 L426.30,214.51 L427.05,214.46 L427.80,214.41 L428.55,214.35 L429.30,214.27 L430.05,214.19 L430.80,214.09 L431.55,213.98 L432.30,213.85 L433.05,213.70 L433.80,213.53 L434.55,213.34 L435.30,213.13 L436.05,212.90 L436.80,212.64 L437.55,212.36 L438.30,212.05 L439.05,211.71 L439.80,211.35 L440.55,210.95 L441.30,210.52 L442.05,210.06 L442.80,209.56 L443.55,209.02 L444.30,208.45 L445.05,207.83 L445.80,207.18 L446.55,206.47 L447.30,205.72 L448.05,204.92 L448.80,204.07 L449.55,203.16 L450.30,202.19 L451.05,201.16 L451.80,200.07 L452.55,198.90 L453.30,197.67 L454.05,196.35 L454.80,194.96 L455.55,193.48 L456.30,191.91 L457.05,190.25 L457.80,188.49 L458.55,186.64 L459.30,184.68 L460.05,182.62 L460.80,180.45 L461.55,178.16 L462.30,175.77 L463.05,173.26 L463.80,170.64 L464.55,167.91 L465.30,165.06 L466.05,162.10 L466.80,159.04 L467.55,155.87 L468.30,152.60 L469.05,149.24 L469.80,145.79 L470.55,142.26 L471.30,138.65 L472.05,134.99 L472.80,131.27 L473.55,127.50 L474.30,123.70 L475.05,119.87 L475.80,116.03 L476.55,112.17 L477.30,108.31 L478.05,104.46 L478.80,100.62 L479.55,96.79 L480.30,92.99 L481.05,89.21 L481.80,85.48 L482.55,81.79 L483.30,78.18 L484.05,74.65 L484.80,71.25 L485.55,67.99 L486.30,64.93 L487.05,62.10 L487.80,59.56 L488.55,57.36 L489.30,55.55 L490.05,54.18 L490.80,53.29 L491.55,52.91 L492.30,53.07 L493.05,53.77 L493.80,55.03 L494.55,56.80 L495.30,59.07 L496.05,61.80 L496.80,64.92 L497.55,68.39 L498.30,72.15 L499.05,76.13 L499.80,80.27 L500.55,84.54 L501.30,88.87 L502.05,93.22 L502.80,97.58 L503.55,101.90 L504.30,106.17 L505.05,110.39 L505.80,114.52 L506.55,118.59 L507.30,122.57 L508.05,126.46 L508.80,130.28 L509.55,134.00 L510.30,137.63 L511.05,141.18 L511.80,144.63 L512.55,147.99 L513.30,151.25 L514.05,154.40 L514.80,157.46 L515.55,160.41 L516.30,163.25 L517.05,165.99 L517.80,168.62 L518.55,171.14 L519.30,173.55 L520.05,175.86 L520.80,178.06 L521.55,180.16 L522.30,182.16 L523.05,184.06 L523.80,185.87 L524.55,187.58 L525.30,189.21 L526.05,190.76 L526.80,192.22 L527.55,193.61 L528.30,194.92 L529.05,196.16 L529.80,197.34 L530.55,198.46 L531.30,199.52 L532.05,200.52 L532.80,201.47 L533.55,202.37 L534.30,203.22 L535.05,204.03 L535.80,204.80 L536.55,205.52 L537.30,206.21 L538.05,206.87 L538.80,207.49 L539.55,208.08 L540.30,208.64 L541.05,209.18 L541.80,209.68 L542.55,210.16 L543.30,210.62 L544.05,211.06 L544.80,211.47 L545.55,211.86 L546.30,212.23 L547.05,212.58 L547.80,212.92 L548.55,213.23 L549.30,213.53 L550.05,213.82 L550.80,214.09 L551.55,214.34 L552.30,214.58 L553.05,214.81 L553.80,215.02 L554.55,215.23 L555.30,215.42 L556.05,215.60 L556.80,215.77 L557.55,215.93 L558.30,216.08 L559.05,216.22 L559.80,216.35 L560.55,216.47 L561.30,216.59 L562.05,216.70 L562.80,216.80 L563.55,216.89 L564.30,216.98 L565.05,217.06 L565.80,217.14 L566.55,217.21 L567.30,217.28 L568.05,217.34 L568.80,217.39 L569.55,217.44 L570.30,217.48 L571.05,217.51 L571.80,217.54 L572.55,217.55 L573.30,217.55 L574.05,217.53 L574.80,217.50 L575.55,217.46 L576.30,217.41 L577.05,217.34 L577.80,217.27 L578.55,217.20 L579.30,217.13 L580.05,217.08 L580.80,217.04 L581.55,217.03 L582.30,217.03 L583.05,217.07 L583.80,217.13 L584.55,217.20 L585.30,217.30 L586.05,217.40 L586.80,217.51 L587.55,217.61 L588.30,217.71 L589.05,217.80 L589.80,217.87 L590.55,217.94 L591.30,217.99 L592.05,218.03 L592.80,218.07 L593.55,218.09 L594.30,218.11 L595.05,218.13 L595.80,218.14 L596.55,218.15 L597.30,218.16 L598.05,218.17 L598.80,218.18 L599.55,218.18 L600.30,218.19 L601.05,218.20 L601.80,218.20 L602.55,218.21 L603.30,218.22 L604.05,218.22 L604.80,218.23 L605.55,218.24 L606.30,218.24 L607.05,218.25 L607.80,218.26 L608.55,218.26 L609.30,218.27 L610.05,218.28 L610.80,218.28 L611.55,218.29 L612.30,218.30 L613.05,218.30 L613.80,218.31 L614.55,218.32 L615.30,218.33 L616.05,218.33 L616.80,218.34 L617.55,218.35 L618.30,218.35 L619.05,218.36 L619.80,218.37 L620.55,218.37 L621.30,218.38 L622.05,218.39 L622.80,218.39 L623.55,218.40 L624.30,218.41 L625.05,218.42 L625.80,218.42 L626.55,218.43 L627.30,218.44 L628.05,218.44 L628.80,218.45 L629.55,218.46 L630.30,218.46 L631.05,218.47 L631.80,218.48 L632.55,218.48 L633.30,218.49 L634.05,218.50 L634.80,218.50 L635.55,218.51 L636.30,218.52 L637.05,218.52 L637.80,218.53 L638.55,218.54 L639.30,218.54 L640.05,218.55 L640.80,218.55 L641.55,218.56 L642.30,218.57 L643.05,218.57 L643.80,218.58 L644.55,218.59 L645.30,218.59 L646.05,218.60 L646.80,218.60 L647.55,218.61 L648.30,218.61 L649.05,218.62 L649.80,218.63 L650.55,218.63 L651.30,218.64 L652.05,218.64 L652.80,218.65 L653.55,218.65 L654.30,218.66 L655.05,218.66 L655.80,218.67 L656.55,218.67 L657.30,218.68 L658.05,218.68 L658.80,218.69 L659.55,218.69 L660.30,218.70 L661.05,218.70 L661.80,218.71 L662.55,218.71 L663.30,218.72 L664.05,218.72 L664.80,218.72 L665.55,218.73 L666.30,218.73 L667.05,218.74 L667.80,218.74 L668.55,218.74 L669.30,218.75 L670.05,218.75 L670.80,218.76 L671.55,218.76 L672.30,218.76 L673.05,218.77 L673.80,218.77 L674.55,218.77 L675.30,218.78 L676.05,218.78 L676.80,218.78 L677.55,218.79 L678.30,218.79 L679.00,218.79" stroke="#e377c2"/><path d="M396.30,218.58 L397.05,218.53 L397.80,218.48 L398.55,218.42 L399.30,218.35 L400.05,218.28 L400.80,218.20 L401.55,218.12 L402.30,218.03 L403.05,217.93 L403.80,217.83 L404.55,217.73 L405.30,217.62 L406.05,217.51 L406.80,217.39 L407.55,217.28 L408.30,217.16 L409.05,217.04 L409.80,216.93 L410.55,216.82 L411.30,216.71 L412.05,216.60 L412.80,216.50 L413.55,216.41 L414.30,216.32 L415.05,216.25 L415.80,216.18 L416.55,216.11 L417.30,216.06 L418.05,216.01 L418.80,215.97 L419.55,215.93 L420.30,215.90 L421.05,215.87 L421.80,215.85 L422.55,215.82 L423.30,215.80 L424.05,215.77 L424.80,215.74 L425.55,215.70 L426.30,215.65 L427.05,215.59 L427.80,215.52 L428.55,215.44 L429.30,215.34 L430.05,215.22 L430.80,215.08 L431.55,214.91 L432.30,214.73 L433.05,214.52 L433.80,214.28 L434.55,214.01 L435.30,213.72 L436.05,213.39 L436.80,213.03 L437.55,212.64 L438.30,212.22 L439.05,211.76 L439.80,211.26 L440.55,210.73 L441.30,210.15 L442.05,209.54 L442.80,208.88 L443.55,208.18 L444.30,207.43 L445.05,206.64 L445.80,205.80 L446.55,204.91 L447.30,203.96 L448.05,202.96 L448.80,201.90 L449.55,200.78 L450.30,199.60 L451.05,198.35 L451.80,197.03 L452.55,195.64 L453.30,194.18 L454.05,192.63 L454.80,191.01 L455.55,189.29 L456.30,187.49 L457.05,185.59 L457.80,183.60 L458.55,181.50 L459.30,179.30 L460.05,177.00 L460.80,174.59 L461.55,172.06 L462.30,169.43 L463.05,166.69 L463.80,163.83 L464.55,160.86 L465.30,157.79 L466.05,154.61 L466.80,151.34 L467.55,147.97 L468.30,144.51 L469.05,140.98 L469.80,137.38 L470.55,133.73 L471.30,130.03 L472.05,126.31 L472.80,122.57 L473.55,118.83 L474.30,115.12 L475.05,111.44 L475.80,107.82 L476.55,104.26 L477.30,100.80 L478.05,97.44 L478.80,94.20 L479.55,91.08 L480.30,88.12 L481.05,85.30 L481.80,82.64 L482.55,80.14 L483.30,77.80 L484.05,75.62 L484.80,73.60 L485.55,71.73 L486.30,70.01 L487.05,68.43 L487.80,66.98 L488.55,65.67 L489.30,64.49 L490.05,63.45 L490.80,62.55 L491.55,61.79 L492.30,61.21 L493.05,60.82 L493.80,60.64 L494.55,60.71 L495.30,61.05 L496.05,61.70 L496.80,62.69 L497.55,64.06 L498.30,65.81 L499.05,67.98 L499.80,70.58 L500.55,73.61 L501.30,77.07 L502.05,80.93 L502.80,85.17 L503.55,89.76 L504.30,94.64 L505.05,99.78 L505.80,105.10 L506.55,110.56 L507.30,116.09 L508.05,121.64 L508.80,127.13 L509.55,132.53 L510.30,137.79 L511.05,142.86 L511.80,147.72 L512.55,152.34 L513.30,156.70 L514.05,160.80 L514.80,164.63 L515.55,168.19 L516.30,171.49 L517.05,174.55 L517.80,177.38 L518.55,179.99 L519.30,182.40 L520.05,184.62 L520.80,186.68 L521.55,188.60 L522.30,190.37 L523.05,192.03 L523.80,193.57 L524.55,195.02 L525.30,196.38 L526.05,197.66 L526.80,198.86 L527.55,200.00 L528.30,201.08 L529.05,202.10 L529.80,203.07 L530.55,203.99 L531.30,204.86 L532.05,205.69 L532.80,206.47 L533.55,207.21 L534.30,207.91 L535.05,208.58 L535.80,209.20 L536.55,209.80 L537.30,210.36 L538.05,210.89 L538.80,211.39 L539.55,211.85 L540.30,212.30 L541.05,212.71 L541.80,213.10 L542.55,213.46 L543.30,213.80 L544.05,214.12 L544.80,214.42 L545.55,214.70 L546.30,214.95 L547.05,215.20 L547.80,215.42 L548.55,215.63 L549.30,215.82 L550.05,216.00 L550.80,216.17 L551.55,216.32 L552.30,216.47 L553.05,216.60 L553.80,216.72 L554.55,216.83 L555.30,216.94 L556.05,217.03 L556.80,217.12 L557.55,217.20 L558.30,217.28 L559.05,217.35 L559.80,217.41 L560.55,217.47 L561.30,217.52 L562.05,217.57 L562.80,217.61 L563.55,217.65 L564.30,217.69 L565.05,217.71 L565.80,217.73 L566.55,217.75 L567.30,217.76 L568.05,217.76 L568.80,217.75 L569.55,217.73 L570.30,217.70 L571.05,217.65 L571.80,217.60 L572.55,217.54 L573.30,217.47 L574.05,217.39 L574.80,217.31 L575.55,217.23 L576.30,217.15 L577.05,217.08 L577.80,217.02 L578.55,216.98 L579.30,216.95 L580.05,216.94 L580.80,216.95 L581.55,216.99 L582.30,217.04 L583.05,217.11 L583.80,217.20 L584.55,217.29 L585.30,217.40 L586.05,217.51 L586.80,217.62 L587.55,217.72 L588.30,217.83 L589.05,217.92 L589.80,218.00 L590.55,218.08 L591.30,218.15 L592.05,218.20 L592.80,218.25 L593.55,218.29 L594.30,218.33 L595.05,218.36 L595.80,218.38 L596.55,218.40 L597.30,218.42 L598.05,218.43 L598.80,218.45 L599.55,218.46 L600.30,218.47 L601.05,218.48 L601.80,218.49 L602.55,218.50 L603.30,218.51 L604.05,218.52 L604.80,218.53 L605.55,218.54 L606.30,218.55 L607.05,218.56 L607.80,218.56 L608.55,218.57 L609.30,218.58 L610.05,218.59 L610.80,218.60 L611.55,218.61 L612.30,218.61 L613.05,218.62 L613.80,218.63 L614.55,218.64 L615.30,218.64 L616.05,218.65 L616.80,218.66 L617.55,218.66 L618.30,218.67 L619.05,218.68 L619.80,218.68 L620.55,218.69 L621.30,218.70 L622.05,218.70 L622.80,218.71 L623.55,218.72 L624.30,218.72 L625.05,218.73 L625.80,218.73 L626.55,218.74 L627.30,218.74 L628.05,218.75 L628.80,218.75 L629.55,218.76 L630.30,218.76 L631.05,218.77 L631.80,218.77 L632.55,218.78 L633.30,218.78 L634.05,218.78 L634.80,218.79 L635.55,218.79 L636.30,218.80 L637.05,218.80 L637.80,218.80 L638.55,218.81 L639.30,218.81 L640.05,218.81 L640.80,218.82 L641.55,218.82 L642.30,218.82 L643.05,218.82 L643.80,218.83 L644.55,218.83 L645.30,218.83 L646.05,218.84 L646.80,218.84 L647.55,218.84 L648.30,218.84 L649.05,218.85 L649.80,218.85 L650.55,218.85 L651.30,218.85 L652.05,218.85 L652.80,218.86 L653.55,218.86 L654.30,218.86 L655.05,218.86 L655.80,218.86 L656.55,218.86 L657.30,218.87 L658.05,218.87 L658.80,218.87 L659.55,218.87 L660.30,218.87 L661.05,218.87 L661.80,218.87 L662.55,218.87 L663.30,218.88 L664.05,218.88 L664.80,218.88 L665.55,218.88 L666.30,218.88 L667.05,218.88 L667.80,218.88 L668.55,218.88 L669.30,218.88 L670.05,218.88 L670.80,218.88 L671.55,218.89 L672.30,218.89 L673.05,218.89 L673.80,218.89 L674.55,218.89 L675.30,218.89 L676.05,218.89 L676.80,218.89 L677.55,218.89 L678.30,218.89 L679.00,218.89" stroke="#8c564b"/><path d="M396.30,218.85 L397.05,218.84 L397.80,218.83 L398.55,218.82 L399.30,218.81 L400.05,218.79 L400.80,218.78 L401.55,218.76 L402.30,218.74 L403.05,218.71 L403.80,218.68 L404.55,218.66 L405.30,218.62 L406.05,218.59 L406.80,218.55 L407.55,218.51 L408.30,218.46 L409.05,218.42 L409.80,218.37 L410.55,218.32 L411.30,218.26 L412.05,218.20 L412.80,218.15 L413.55,218.09 L414.30,218.03 L415.05,217.96 L415.80,217.90 L416.55,217.84 L417.30,217.78 L418.05,217.72 L418.80,217.66 L419.55,217.60 L420.30,217.54 L421.05,217.49 L421.80,217.43 L422.55,217.38 L423.30,217.33 L424.05,217.28 L424.80,217.23 L425.55,217.18 L426.30,217.14 L427.05,217.09 L427.80,217.04 L428.55,216.99 L429.30,216.93 L430.05,216.87 L430.80,216.81 L431.55,216.74 L432.30,216.66 L433.05,216.58 L433.80,216.49 L434.55,216.39 L435.30,216.28 L436.05,216.15 L436.80,216.02 L437.55,215.87 L438.30,215.71 L439.05,215.53 L439.80,215.34 L440.55,215.13 L441.30,214.91 L442.05,214.67 L442.80,214.41 L443.55,214.13 L444.30,213.83 L445.05,213.51 L445.80,213.18 L446.55,212.82 L447.30,212.44 L448.05,212.04 L448.80,211.62 L449.55,211.17 L450.30,210.71 L451.05,210.22 L451.80,209.71 L452.55,209.17 L453.30,208.61 L454.05,208.02 L454.80,207.40 L455.55,206.76 L456.30,206.09 L457.05,205.39 L457.80,204.66 L458.55,203.90 L459.30,203.10 L460.05,202.26 L460.80,201.38 L461.55,200.45 L462.30,199.48 L463.05,198.44 L463.80,197.34 L464.55,196.16 L465.30,194.91 L466.05,193.55 L466.80,192.09 L467.55,190.51 L468.30,188.80 L469.05,186.93 L469.80,184.91 L470.55,182.70 L471.30,180.31 L472.05,177.72 L472.80,174.92 L473.55,171.90 L474.30,168.68 L475.05,165.24 L475.80,161.61 L476.55,157.79 L477.30,153.81 L478.05,149.69 L478.80,145.46 L479.55,141.15 L480.30,136.79 L481.05,132.43 L481.80,128.09 L482.55,123.80 L483.30,119.60 L484.05,115.51 L484.80,111.54 L485.55,107.71 L486.30,104.02 L487.05,100.48 L487.80,97.07 L488.55,93.80 L489.30,90.65 L490.05,87.61 L490.80,84.67 L491.55,81.81 L492.30,79.04 L493.05,76.34 L493.80,73.72 L494.55,71.19 L495.30,68.75 L496.05,66.42 L496.80,64.23 L497.55,62.20 L498.30,60.35 L499.05,58.71 L499.80,57.31 L500.55,56.18 L501.30,55.35 L502.05,54.83 L502.80,54.65 L503.55,54.83 L504.30,55.37 L505.05,56.28 L505.80,57.57 L506.55,59.24 L507.30,61.27 L508.05,63.65 L508.80,66.38 L509.55,69.42 L510.30,72.76 L511.05,76.37 L511.80,80.22 L512.55,84.29 L513.30,88.54 L514.05,92.94 L514.80,97.47 L515.55,102.09 L516.30,106.76 L517.05,111.47 L517.80,116.18 L518.55,120.86 L519.30,125.50 L520.05,130.07 L520.80,134.55 L521.55,138.91 L522.30,143.16 L523.05,147.27 L523.80,151.24 L524.55,155.05 L525.30,158.69 L526.05,162.18 L526.80,165.50 L527.55,168.65 L528.30,171.63 L529.05,174.45 L529.80,177.12 L530.55,179.62 L531.30,181.98 L532.05,184.19 L532.80,186.27 L533.55,188.21 L534.30,190.03 L535.05,191.74 L535.80,193.34 L536.55,194.83 L537.30,196.23 L538.05,197.55 L538.80,198.78 L539.55,199.93 L540.30,201.01 L541.05,202.03 L541.80,202.98 L542.55,203.88 L543.30,204.73 L544.05,205.53 L544.80,206.28 L545.55,206.99 L546.30,207.67 L547.05,208.30 L547.80,208.90 L548.55,209.47 L549.30,210.01 L550.05,210.52 L550.80,211.00 L551.55,211.45 L552.30,211.88 L553.05,212.29 L553.80,212.67 L554.55,213.04 L555.30,213.38 L556.05,213.70 L556.80,214.00 L557.55,214.28 L558.30,214.55 L559.05,214.80 L559.80,215.03 L560.55,215.25 L561.30,215.46 L562.05,215.65 L562.80,215.82 L563.55,215.99 L564.30,216.14 L565.05,216.28 L565.80,216.41 L566.55,216.53 L567.30,216.64 L568.05,216.75 L568.80,216.84 L569.55,216.93 L570.30,217.01 L571.05,217.09 L571.80,217.17 L572.55,217.23 L573.30,217.30 L574.05,217.36 L574.80,217.42 L575.55,217.47 L576.30,217.52 L577.05,217.58 L577.80,217.62 L578.55,217.67 L579.30,217.72 L580.05,217.76 L580.80,217.80 L581.55,217.85 L582.30,217.89 L583.05,217.93 L583.80,217.96 L584.55,218.00 L585.30,218.03 L586.05,218.07 L586.80,218.10 L587.55,218.13 L588.30,218.16 L589.05,218.18 L589.80,218.21 L590.55,218.23 L591.30,218.25 L592.05,218.27 L592.80,218.29 L593.55,218.30 L594.30,218.32 L595.05,218.33 L595.80,218.34 L596.55,218.36 L597.30,218.36 L598.05,218.37 L598.80,218.38 L599.55,218.39 L600.30,218.40 L601.05,218.40 L601.80,218.41 L602.55,218.41 L603.30,218.41 L604.05,218.42 L604.80,218.42 L605.55,218.43 L606.30,218.43 L607.05,218.43 L607.80,218.43 L608.55,218.44 L609.30,218.44 L610.05,218.44 L610.80,218.44 L611.55,218.45 L612.30,218.45 L613.05,218.45 L613.80,218.45 L614.55,218.46 L615.30,218.46 L616.05,218.46 L616.80,218.46 L617.55,218.47 L618.30,218.47 L619.05,218.47 L619.80,218.48 L620.55,218.48 L621.30,218.48 L622.05,218.49 L622.80,218.49 L623.55,218.49 L624.30,218.49 L625.05,218.50 L625.80,218.50 L626.55,218.51 L627.30,218.51 L628.05,218.51 L628.80,218.52 L629.55,218.52 L630.30,218.52 L631.05,218.53 L631.80,218.53 L632.55,218.54 L633.30,218.54 L634.05,218.54 L634.80,218.55 L635.55,218.55 L636.30,218.56 L637.05,218.56 L637.80,218.56 L638.55,218.57 L639.30,218.57 L640.05,218.58 L640.80,218.58 L641.55,218.59 L642.30,218.59 L643.05,218.59 L643.80,218.60 L644.55,218.60 L645.30,218.61 L646.05,218.61 L646.80,218.62 L647.55,218.62 L648.30,218.62 L649.05,218.63 L649.80,218.63 L650.55,218.64 L651.30,218.64 L652.05,218.65 L652.80,218.65 L653.55,218.65 L654.30,218.66 L655.05,218.66 L655.80,218.67 L656.55,218.67 L657.30,218.68 L658.05,218.68 L658.80,218.68 L659.55,218.69 L660.30,218.69 L661.05,218.70 L661.80,218.70 L662.55,218.70 L663.30,218.71 L664.05,218.71 L664.80,218.72 L665.55,218.72 L666.30,218.72 L667.05,218.73 L667.80,218.73 L668.55,218.73 L669.30,218.74 L670.05,218.74 L670.80,218.75 L671.55,218.75 L672.30,218.75 L673.05,218.76 L673.80,218.76 L674.55,218.76 L675.30,218.77 L676.05,218.77 L676.80,218.77 L677.55,218.78 L678.30,218.78 L679.00,218.78" stroke="#9467bd"/><path d="M396.30,218.63 L397.05,218.63 L397.80,218.62 L398.55,218.62 L399.30,218.61 L400.05,218.61 L400.80,218.60 L401.55,218.60 L402.30,218.60 L403.05,218.59 L403.80,218.59 L404.55,218.58 L405.30,218.58 L406.05,218.57 L406.80,218.57 L407.55,218.56 L408.30,218.56 L409.05,218.55 L409.80,218.55 L410.55,218.54 L411.30,218.54 L412.05,218.53 L412.80,218.52 L413.55,218.52 L414.30,218.51 L415.05,218.51 L415.80,218.50 L416.55,218.50 L417.30,218.49 L418.05,218.48 L418.80,218.48 L419.55,218.47 L420.30,218.47 L421.05,218.46 L421.80,218.45 L422.55,218.44 L423.30,218.43 L424.05,218.43 L424.80,218.41 L425.55,218.40 L426.30,218.39 L427.05,218.38 L427.80,218.36 L428.55,218.34 L429.30,218.32 L430.05,218.29 L430.80,218.26 L431.55,218.23 L432.30,218.18 L433.05,218.14 L433.80,218.09 L434.55,218.03 L435.30,217.96 L436.05,217.88 L436.80,217.80 L437.55,217.71 L438.30,217.61 L439.05,217.51 L439.80,217.39 L440.55,217.28 L441.30,217.15 L442.05,217.03 L442.80,216.90 L443.55,216.77 L444.30,216.63 L445.05,216.51 L445.80,216.38 L446.55,216.26 L447.30,216.15 L448.05,216.04 L448.80,215.93 L449.55,215.84 L450.30,215.74 L451.05,215.65 L451.80,215.56 L452.55,215.47 L453.30,215.37 L454.05,215.25 L454.80,215.12 L455.55,214.97 L456.30,214.79 L457.05,214.57 L457.80,214.31 L458.55,213.99 L459.30,213.62 L460.05,213.18 L460.80,212.66 L461.55,212.05 L462.30,211.35 L463.05,210.55 L463.80,209.63 L464.55,208.59 L465.30,207.43 L466.05,206.12 L466.80,204.66 L467.55,203.05 L468.30,201.28 L469.05,199.34 L469.80,197.22 L470.55,194.93 L471.30,192.45 L472.05,189.79 L472.80,186.94 L473.55,183.90 L474.30,180.67 L475.05,177.27 L475.80,173.69 L476.55,169.94 L477.30,166.03 L478.05,161.97 L478.80,157.78 L479.55,153.47 L480.30,149.06 L481.05,144.57 L481.80,140.01 L482.55,135.42 L483.30,130.81 L484.05,126.22 L484.80,121.65 L485.55,117.15 L486.30,112.73 L487.05,108.42 L487.80,104.24 L488.55,100.22 L489.30,96.38 L490.05,92.74 L490.80,89.32 L491.55,86.12 L492.30,83.17 L493.05,80.48 L493.80,78.06 L494.55,75.90 L495.30,74.01 L496.05,72.39 L496.80,71.04 L497.55,69.95 L498.30,69.12 L499.05,68.53 L499.80,68.18 L500.55,68.05 L501.30,68.12 L502.05,68.40 L502.80,68.85 L503.55,69.47 L504.30,70.25 L505.05,71.16 L505.80,72.21 L506.55,73.38 L507.30,74.66 L508.05,76.04 L508.80,77.52 L509.55,79.10 L510.30,80.76 L511.05,82.52 L511.80,84.37 L512.55,86.31 L513.30,88.35 L514.05,90.48 L514.80,92.72 L515.55,95.05 L516.30,97.49 L517.05,100.04 L517.80,102.70 L518.55,105.46 L519.30,108.33 L520.05,111.31 L520.80,114.39 L521.55,117.57 L522.30,120.84 L523.05,124.18 L523.80,127.60 L524.55,131.07 L525.30,134.59 L526.05,138.13 L526.80,141.69 L527.55,145.25 L528.30,148.79 L529.05,152.29 L529.80,155.74 L530.55,159.11 L531.30,162.40 L532.05,165.59 L532.80,168.66 L533.55,171.61 L534.30,174.42 L535.05,177.08 L535.80,179.60 L536.55,181.96 L537.30,184.17 L538.05,186.24 L538.80,188.16 L539.55,189.95 L540.30,191.61 L541.05,193.15 L541.80,194.59 L542.55,195.93 L543.30,197.19 L544.05,198.37 L544.80,199.49 L545.55,200.55 L546.30,201.56 L547.05,202.52 L547.80,203.44 L548.55,204.32 L549.30,205.15 L550.05,205.95 L550.80,206.70 L551.55,207.41 L552.30,208.08 L553.05,208.70 L553.80,209.27 L554.55,209.80 L555.30,210.29 L556.05,210.74 L556.80,211.14 L557.55,211.51 L558.30,211.84 L559.05,212.14 L559.80,212.42 L560.55,212.67 L561.30,212.90 L562.05,213.11 L562.80,213.31 L563.55,213.50 L564.30,213.68 L565.05,213.85 L565.80,214.01 L566.55,214.17 L567.30,214.33 L568.05,214.48 L568.80,214.62 L569.55,214.76 L570.30,214.90 L571.05,215.04 L571.80,215.17 L572.55,215.30 L573.30,215.43 L574.05,215.55 L574.80,215.66 L575.55,215.77 L576.30,215.88 L577.05,215.98 L577.80,216.08 L578.55,216.17 L579.30,216.26 L580.05,216.34 L580.80,216.41 L581.55,216.49 L582.30,216.55 L583.05,216.62 L583.80,216.67 L584.55,216.73 L585.30,216.78 L586.05,216.82 L586.80,216.87 L587.55,216.90 L588.30,216.94 L589.05,216.97 L589.80,217.00 L590.55,217.03 L591.30,217.05 L592.05,217.08 L592.80,217.10 L593.55,217.11 L594.30,217.13 L595.05,217.15 L595.80,217.16 L596.55,217.17 L597.30,217.19 L598.05,217.20 L598.80,217.21 L599.55,217.22 L600.30,217.22 L601.05,217.23 L601.80,217.24 L602.55,217.25 L603.30,217.26 L604.05,217.26 L604.80,217.27 L605.55,217.28 L606.30,217.28 L607.05,217.29 L607.80,217.29 L608.55,217.30 L609.30,217.31 L610.05,217.31 L610.80,217.32 L611.55,217.32 L612.30,217.33 L613.05,217.34 L613.80,217.34 L614.55,217.35 L615.30,217.36 L616.05,217.36 L616.80,217.37 L617.55,217.37 L618.30,217.38 L619.05,217.39 L619.80,217.39 L620.55,217.40 L621.30,217.41 L622.05,217.41 L622.80,217.42 L623.55,217.43 L624.30,217.44 L625.05,217.44 L625.80,217.45 L626.55,217.46 L627.30,217.46 L628.05,217.47 L628.80,217.48 L629.55,217.49 L630.30,217.49 L631.05,217.50 L631.80,217.51 L632.55,217.52 L633.30,217.53 L634.05,217.53 L634.80,217.54 L635.55,217.55 L636.30,217.56 L637.05,217.56 L637.80,217.57 L638.55,217.58 L639.30,217.59 L640.05,217.60 L640.80,217.61 L641.55,217.61 L642.30,217.62 L643.05,217.63 L643.80,217.64 L644.55,217.65 L645.30,217.66 L646.05,217.66 L646.80,217.67 L647.55,217.68 L648.30,217.69 L649.05,217.70 L649.80,217.71 L650.55,217.71 L651.30,217.72 L652.05,217.73 L652.80,217.74 L653.55,217.75 L654.30,217.76 L655.05,217.77 L655.80,217.78 L656.55,217.78 L657.30,217.79 L658.05,217.80 L658.80,217.81 L659.55,217.82 L660.30,217.83 L661.05,217.84 L661.80,217.84 L662.55,217.85 L663.30,217.86 L664.05,217.87 L664.80,217.88 L665.55,217.89 L666.30,217.90 L667.05,217.91 L667.80,217.91 L668.55,217.92 L669.30,217.93 L670.05,217.94 L670.80,217.95 L671.55,217.96 L672.30,217.97 L673.05,217.98 L673.80,217.98 L674.55,217.99 L675.30,218.00 L676.05,218.01 L676.80,218.02 L677.55,218.03 L678.30,218.03 L679.00,218.04" stroke="#d62728"/><path d="M396.30,218.49 L397.05,218.48 L397.80,218.46 L398.55,218.45 L399.30,218.44 L400.05,218.42 L400.80,218.40 L401.55,218.39 L402.30,218.37 L403.05,218.36 L403.80,218.34 L404.55,218.32 L405.30,218.30 L406.05,218.29 L406.80,218.27 L407.55,218.25 L408.30,218.23 L409.05,218.21 L409.80,218.19 L410.55,218.17 L411.30,218.15 L412.05,218.13 L412.80,218.11 L413.55,218.08 L414.30,218.06 L415.05,218.04 L415.80,218.02 L416.55,217.99 L417.30,217.97 L418.05,217.94 L418.80,217.91 L419.55,217.89 L420.30,217.86 L421.05,217.83 L421.80,217.80 L422.55,217.77 L423.30,217.74 L424.05,217.70 L424.80,217.67 L425.55,217.63 L426.30,217.59 L427.05,217.55 L427.80,217.51 L428.55,217.47 L429.30,217.42 L430.05,217.37 L430.80,217.32 L431.55,217.27 L432.30,217.21 L433.05,217.15 L433.80,217.08 L434.55,217.01 L435.30,216.94 L436.05,216.86 L436.80,216.78 L437.55,216.69 L438.30,216.60 L439.05,216.50 L439.80,216.40 L440.55,216.28 L441.30,216.16 L442.05,216.04 L442.80,215.90 L443.55,215.75 L444.30,215.60 L445.05,215.44 L445.80,215.26 L446.55,215.08 L447.30,214.88 L448.05,214.67 L448.80,214.45 L449.55,214.21 L450.30,213.96 L451.05,213.69 L451.80,213.41 L452.55,213.11 L453.30,212.80 L454.05,212.46 L454.80,212.11 L455.55,211.74 L456.30,211.34 L457.05,210.92 L457.80,210.47 L458.55,210.00 L459.30,209.50 L460.05,208.96 L460.80,208.38 L461.55,207.77 L462.30,207.11 L463.05,206.39 L463.80,205.61 L464.55,204.77 L465.30,203.84 L466.05,202.83 L466.80,201.71 L467.55,200.48 L468.30,199.11 L469.05,197.60 L469.80,195.92 L470.55,194.07 L471.30,192.01 L472.05,189.75 L472.80,187.26 L473.55,184.54 L474.30,181.58 L475.05,178.37 L475.80,174.92 L476.55,171.23 L477.30,167.33 L478.05,163.21 L478.80,158.92 L479.55,154.48 L480.30,149.93 L481.05,145.29 L481.80,140.62 L482.55,135.95 L483.30,131.33 L484.05,126.79 L484.80,122.37 L485.55,118.10 L486.30,114.00 L487.05,110.10 L487.80,106.39 L488.55,102.89 L489.30,99.59 L490.05,96.49 L490.80,93.57 L491.55,90.80 L492.30,88.18 L493.05,85.69 L493.80,83.29 L494.55,80.99 L495.30,78.76 L496.05,76.60 L496.80,74.51 L497.55,72.49 L498.30,70.54 L499.05,68.69 L499.80,66.96 L500.55,65.35 L501.30,63.92 L502.05,62.67 L502.80,61.64 L503.55,60.85 L504.30,60.34 L505.05,60.12 L505.80,60.22 L506.55,60.65 L507.30,61.42 L508.05,62.53 L508.80,64.00 L509.55,65.82 L510.30,67.97 L511.05,70.44 L511.80,73.23 L512.55,76.30 L513.30,79.64 L514.05,83.21 L514.80,87.00 L515.55,90.96 L516.30,95.07 L517.05,99.30 L517.80,103.62 L518.55,107.99 L519.30,112.40 L520.05,116.81 L520.80,121.19 L521.55,125.53 L522.30,129.80 L523.05,133.98 L523.80,138.06 L524.55,142.03 L525.30,145.87 L526.05,149.57 L526.80,153.12 L527.55,156.53 L528.30,159.79 L529.05,162.89 L529.80,165.85 L530.55,168.65 L531.30,171.31 L532.05,173.82 L532.80,176.20 L533.55,178.45 L534.30,180.57 L535.05,182.57 L535.80,184.46 L536.55,186.24 L537.30,187.93 L538.05,189.52 L538.80,191.03 L539.55,192.45 L540.30,193.80 L541.05,195.08 L541.80,196.29 L542.55,197.44 L543.30,198.54 L544.05,199.58 L544.80,200.58 L545.55,201.52 L546.30,202.43 L547.05,203.29 L547.80,204.11 L548.55,204.89 L549.30,205.64 L550.05,206.36 L550.80,207.04 L551.55,207.69 L552.30,208.31 L553.05,208.90 L553.80,209.47 L554.55,210.00 L555.30,210.51 L556.05,210.99 L556.80,211.45 L557.55,211.88 L558.30,212.29 L559.05,212.68 L559.80,213.04 L560.55,213.38 L561.30,213.70 L562.05,214.00 L562.80,214.29 L563.55,214.55 L564.30,214.79 L565.05,215.01 L565.80,215.22 L566.55,215.41 L567.30,215.59 L568.05,215.75 L568.80,215.90 L569.55,216.03 L570.30,216.15 L571.05,216.26 L571.80,216.35 L572.55,216.44 L573.30,216.51 L574.05,216.58 L574.80,216.64 L575.55,216.69 L576.30,216.73 L577.05,216.77 L577.80,216.80 L578.55,216.83 L579.30,216.85 L580.05,216.87 L580.80,216.89 L581.55,216.90 L582.30,216.91 L583.05,216.92 L583.80,216.93 L584.55,216.95 L585.30,216.96 L586.05,216.97 L586.80,216.98 L587.55,216.99 L588.30,217.00 L589.05,217.02 L589.80,217.04 L590.55,217.06 L591.30,217.08 L592.05,217.10 L592.80,217.12 L593.55,217.15 L594.30,217.18 L595.05,217.21 L595.80,217.24 L596.55,217.27 L597.30,217.30 L598.05,217.34 L598.80,217.37 L599.55,217.41 L600.30,217.44 L601.05,217.48 L601.80,217.51 L602.55,217.55 L603.30,217.58 L604.05,217.62 L604.80,217.65 L605.55,217.68 L606.30,217.71 L607.05,217.74 L607.80,217.77 L608.55,217.79 L609.30,217.82 L610.05,217.84 L610.80,217.86 L611.55,217.89 L612.30,217.91 L613.05,217.92 L613.80,217.94 L614.55,217.96 L615.30,217.97 L616.05,217.98 L616.80,217.99 L617.55,218.01 L618.30,218.02 L619.05,218.02 L619.80,218.03 L620.55,218.04 L621.30,218.05 L622.05,218.05 L622.80,218.06 L623.55,218.07 L624.30,218.07 L625.05,218.08 L625.80,218.08 L626.55,218.08 L627.30,218.09 L628.05,218.09 L628.80,218.10 L629.55,218.10 L630.30,218.11 L631.05,218.11 L631.80,218.12 L632.55,218.12 L633.30,218.13 L634.05,218.13 L634.80,218.14 L635.55,218.14 L636.30,218.15 L637.05,218.16 L637.80,218.16 L638.55,218.17 L639.30,218.18 L640.05,218.18 L640.80,218.19 L641.55,218.20 L642.30,218.21 L643.05,218.22 L643.80,218.22 L644.55,218.23 L645.30,218.24 L646.05,218.25 L646.80,218.26 L647.55,218.27 L648.30,218.28 L649.05,218.29 L649.80,218.30 L650.55,218.31 L651.30,218.32 L652.05,218.33 L652.80,218.34 L653.55,218.35 L654.30,218.36 L655.05,218.37 L655.80,218.38 L656.55,218.39 L657.30,218.40 L658.05,218.41 L658.80,218.42 L659.55,218.43 L660.30,218.44 L661.05,218.45 L661.80,218.46 L662.55,218.47 L663.30,218.48 L664.05,218.49 L664.80,218.50 L665.55,218.51 L666.30,218.52 L667.05,218.53 L667.80,218.54 L668.55,218.55 L669.30,218.56 L670.05,218.57 L670.80,218.58 L671.55,218.59 L672.30,218.59 L673.05,218.60 L673.80,218.61 L674.55,218.62 L675.30,218.63 L676.05,218.64 L676.80,218.65 L677.55,218.65 L678.30,218.66 L679.00,218.67" stroke="#2ca02c"/><path d="M396.30,218.61 L397.05,218.59 L397.80,218.57 L398.55,218.55 L399.30,218.52 L400.05,218.50 L400.80,218.47 L401.55,218.44 L402.30,218.41 L403.05,218.38 L403.80,218.35 L404.55,218.32 L405.30,218.28 L406.05,218.25 L406.80,218.21 L407.55,218.17 L408.30,218.13 L409.05,218.08 L409.80,218.04 L410.55,217.99 L411.30,217.95 L412.05,217.90 L412.80,217.85 L413.55,217.80 L414.30,217.74 L415.05,217.69 L415.80,217.63 L416.55,217.58 L417.30,217.52 L418.05,217.46 L418.80,217.40 L419.55,217.34 L420.30,217.28 L421.05,217.22 L421.80,217.16 L422.55,217.10 L423.30,217.04 L424.05,216.97 L424.80,216.91 L425.55,216.85 L426.30,216.79 L427.05,216.73 L427.80,216.67 L428.55,216.61 L429.30,216.55 L430.05,216.49 L430.80,216.44 L431.55,216.38 L432.30,216.33 L433.05,216.28 L433.80,216.23 L434.55,216.18 L435.30,216.14 L436.05,216.09 L436.80,216.05 L437.55,216.01 L438.30,215.97 L439.05,215.93 L439.80,215.89 L440.55,215.86 L441.30,215.82 L442.05,215.78 L442.80,215.74 L443.55,215.69 L444.30,215.64 L445.05,215.58 L445.80,215.51 L446.55,215.42 L447.30,215.32 L448.05,215.19 L448.80,215.04 L449.55,214.86 L450.30,214.65 L451.05,214.39 L451.80,214.09 L452.55,213.75 L453.30,213.36 L454.05,212.91 L454.80,212.42 L455.55,211.88 L456.30,211.28 L457.05,210.65 L457.80,209.98 L458.55,209.27 L459.30,208.54 L460.05,207.79 L460.80,207.03 L461.55,206.27 L462.30,205.50 L463.05,204.73 L463.80,203.96 L464.55,203.19 L465.30,202.41 L466.05,201.62 L466.80,200.79 L467.55,199.92 L468.30,199.00 L469.05,197.99 L469.80,196.89 L470.55,195.68 L471.30,194.33 L472.05,192.84 L472.80,191.18 L473.55,189.35 L474.30,187.32 L475.05,185.10 L475.80,182.68 L476.55,180.05 L477.30,177.22 L478.05,174.18 L478.80,170.95 L479.55,167.52 L480.30,163.91 L481.05,160.13 L481.80,156.19 L482.55,152.10 L483.30,147.89 L484.05,143.56 L484.80,139.14 L485.55,134.65 L486.30,130.11 L487.05,125.54 L487.80,120.97 L488.55,116.41 L489.30,111.90 L490.05,107.46 L490.80,103.11 L491.55,98.89 L492.30,94.81 L493.05,90.90 L493.80,87.20 L494.55,83.71 L495.30,80.47 L496.05,77.49 L496.80,74.79 L497.55,72.39 L498.30,70.31 L499.05,68.55 L499.80,67.12 L500.55,66.03 L501.30,65.28 L502.05,64.86 L502.80,64.77 L503.55,65.01 L504.30,65.54 L505.05,66.36 L505.80,67.45 L506.55,68.79 L507.30,70.33 L508.05,72.07 L508.80,73.96 L509.55,75.98 L510.30,78.09 L511.05,80.26 L511.80,82.47 L512.55,84.68 L513.30,86.87 L514.05,89.03 L514.80,91.13 L515.55,93.17 L516.30,95.15 L517.05,97.05 L517.80,98.90 L518.55,100.71 L519.30,102.49 L520.05,104.27 L520.80,106.06 L521.55,107.91 L522.30,109.84 L523.05,111.88 L523.80,114.06 L524.55,116.39 L525.30,118.91 L526.05,121.62 L526.80,124.54 L527.55,127.66 L528.30,130.99 L529.05,134.51 L529.80,138.20 L530.55,142.04 L531.30,146.00 L532.05,150.04 L532.80,154.14 L533.55,158.26 L534.30,162.35 L535.05,166.38 L535.80,170.32 L536.55,174.13 L537.30,177.78 L538.05,181.26 L538.80,184.54 L539.55,187.60 L540.30,190.45 L541.05,193.07 L541.80,195.46 L542.55,197.63 L543.30,199.59 L544.05,201.34 L544.80,202.90 L545.55,204.28 L546.30,205.49 L547.05,206.56 L547.80,207.49 L548.55,208.30 L549.30,209.01 L550.05,209.63 L550.80,210.17 L551.55,210.65 L552.30,211.06 L553.05,211.43 L553.80,211.76 L554.55,212.06 L555.30,212.33 L556.05,212.57 L556.80,212.80 L557.55,213.01 L558.30,213.21 L559.05,213.40 L559.80,213.58 L560.55,213.75 L561.30,213.92 L562.05,214.08 L562.80,214.23 L563.55,214.38 L564.30,214.52 L565.05,214.66 L565.80,214.79 L566.55,214.92 L567.30,215.04 L568.05,215.16 L568.80,215.28 L569.55,215.39 L570.30,215.49 L571.05,215.59 L571.80,215.69 L572.55,215.78 L573.30,215.87 L574.05,215.95 L574.80,216.03 L575.55,216.10 L576.30,216.17 L577.05,216.24 L577.80,216.30 L578.55,216.36 L579.30,216.41 L580.05,216.46 L580.80,216.51 L581.55,216.56 L582.30,216.60 L583.05,216.64 L583.80,216.67 L584.55,216.71 L585.30,216.74 L586.05,216.77 L586.80,216.79 L587.55,216.82 L588.30,216.84 L589.05,216.86 L589.80,216.88 L590.55,216.90 L591.30,216.92 L592.05,216.93 L592.80,216.95 L593.55,216.96 L594.30,216.97 L595.05,216.98 L595.80,216.99 L596.55,217.00 L597.30,217.01 L598.05,217.02 L598.80,217.03 L599.55,217.04 L600.30,217.05 L601.05,217.05 L601.80,217.06 L602.55,217.07 L603.30,217.07 L604.05,217.08 L604.80,217.09 L605.55,217.09 L606.30,217.10 L607.05,217.11 L607.80,217.11 L608.55,217.12 L609.30,217.13 L610.05,217.13 L610.80,217.14 L611.55,217.14 L612.30,217.15 L613.05,217.16 L613.80,217.16 L614.55,217.17 L615.30,217.18 L616.05,217.19 L616.80,217.19 L617.55,217.20 L618.30,217.21 L619.05,217.22 L619.80,217.22 L620.55,217.23 L621.30,217.24 L622.05,217.25 L622.80,217.26 L623.55,217.26 L624.30,217.27 L625.05,217.28 L625.80,217.29 L626.55,217.30 L627.30,217.31 L628.05,217.32 L628.80,217.33 L629.55,217.34 L630.30,217.35 L631.05,217.36 L631.80,217.37 L632.55,217.38 L633.30,217.39 L634.05,217.40 L634.80,217.41 L635.55,217.42 L636.30,217.43 L637.05,217.44 L637.80,217.45 L638.55,217.46 L639.30,217.47 L640.05,217.48 L640.80,217.49 L641.55,217.50 L642.30,217.51 L643.05,217.52 L643.80,217.54 L644.55,217.55 L645.30,217.56 L646.05,217.57 L646.80,217.58 L647.55,217.59 L648.30,217.60 L649.05,217.62 L649.80,217.63 L650.55,217.64 L651.30,217.65 L652.05,217.66 L652.80,217.67 L653.55,217.68 L654.30,217.70 L655.05,217.71 L655.80,217.72 L656.55,217.73 L657.30,217.74 L658.05,217.76 L658.80,217.77 L659.55,217.78 L660.30,217.79 L661.05,217.80 L661.80,217.81 L662.55,217.83 L663.30,217.84 L664.05,217.85 L664.80,217.86 L665.55,217.87 L666.30,217.89 L667.05,217.90 L667.80,217.91 L668.55,217.92 L669.30,217.93 L670.05,217.94 L670.80,217.95 L671.55,217.97 L672.30,217.98 L673.05,217.99 L673.80,218.00 L674.55,218.01 L675.30,218.02 L676.05,218.03 L676.80,218.05 L677.55,218.06 L678.30,218.07 L679.00,218.08" stroke="#ff7f0e"/><path d="M396.30,218.71 L397.05,218.70 L397.80,218.69 L398.55,218.68 L399.30,218.67 L400.05,218.66 L400.80,218.65 L401.55,218.64 L402.30,218.63 L403.05,218.61 L403.80,218.60 L404.55,218.59 L405.30,218.57 L406.05,218.56 L406.80,218.54 L407.55,218.53 L408.30,218.51 L409.05,218.49 L409.80,218.47 L410.55,218.45 L411.30,218.43 L412.05,218.41 L412.80,218.38 L413.55,218.36 L414.30,218.33 L415.05,218.31 L415.80,218.28 L416.55,218.25 L417.30,218.22 L418.05,218.18 L418.80,218.15 L419.55,218.11 L420.30,218.08 L421.05,218.04 L421.80,218.00 L422.55,217.95 L423.30,217.91 L424.05,217.86 L424.80,217.81 L425.55,217.76 L426.30,217.70 L427.05,217.65 L427.80,217.59 L428.55,217.53 L429.30,217.46 L430.05,217.40 L430.80,217.33 L431.55,217.25 L432.30,217.18 L433.05,217.10 L433.80,217.02 L434.55,216.93 L435.30,216.85 L436.05,216.76 L436.80,216.66 L437.55,216.56 L438.30,216.46 L439.05,216.36 L439.80,216.25 L440.55,216.13 L441.30,216.02 L442.05,215.89 L442.80,215.77 L443.55,215.64 L444.30,215.51 L445.05,215.37 L445.80,215.22 L446.55,215.08 L447.30,214.92 L448.05,214.76 L448.80,214.60 L449.55,214.43 L450.30,214.25 L451.05,214.06 L451.80,213.87 L452.55,213.66 L453.30,213.45 L454.05,213.22 L454.80,212.97 L455.55,212.71 L456.30,212.43 L457.05,212.13 L457.80,211.80 L458.55,211.44 L459.30,211.04 L460.05,210.61 L460.80,210.12 L461.55,209.58 L462.30,208.99 L463.05,208.32 L463.80,207.57 L464.55,206.74 L465.30,205.81 L466.05,204.77 L466.80,203.62 L467.55,202.33 L468.30,200.91 L469.05,199.34 L469.80,197.61 L470.55,195.71 L471.30,193.64 L472.05,191.39 L472.80,188.96 L473.55,186.34 L474.30,183.54 L475.05,180.55 L475.80,177.38 L476.55,174.05 L477.30,170.56 L478.05,166.92 L478.80,163.15 L479.55,159.28 L480.30,155.32 L481.05,151.30 L481.80,147.23 L482.55,143.15 L483.30,139.08 L484.05,135.05 L484.80,131.08 L485.55,127.20 L486.30,123.42 L487.05,119.78 L487.80,116.27 L488.55,112.92 L489.30,109.74 L490.05,106.73 L490.80,103.89 L491.55,101.24 L492.30,98.76 L493.05,96.44 L493.80,94.28 L494.55,92.27 L495.30,90.39 L496.05,88.63 L496.80,86.99 L497.55,85.44 L498.30,83.98 L499.05,82.59 L499.80,81.27 L500.55,80.01 L501.30,78.81 L502.05,77.68 L502.80,76.60 L503.55,75.60 L504.30,74.67 L505.05,73.84 L505.80,73.10 L506.55,72.49 L507.30,72.01 L508.05,71.68 L508.80,71.51 L509.55,71.54 L510.30,71.77 L511.05,72.21 L511.80,72.89 L512.55,73.80 L513.30,74.97 L514.05,76.39 L514.80,78.08 L515.55,80.02 L516.30,82.22 L517.05,84.67 L517.80,87.36 L518.55,90.29 L519.30,93.42 L520.05,96.76 L520.80,100.29 L521.55,103.97 L522.30,107.79 L523.05,111.73 L523.80,115.77 L524.55,119.87 L525.30,124.02 L526.05,128.20 L526.80,132.38 L527.55,136.54 L528.30,140.66 L529.05,144.73 L529.80,148.71 L530.55,152.61 L531.30,156.40 L532.05,160.07 L532.80,163.61 L533.55,167.01 L534.30,170.27 L535.05,173.38 L535.80,176.34 L536.55,179.14 L537.30,181.78 L538.05,184.27 L538.80,186.60 L539.55,188.78 L540.30,190.81 L541.05,192.70 L541.80,194.44 L542.55,196.04 L543.30,197.51 L544.05,198.84 L544.80,200.05 L545.55,201.13 L546.30,202.09 L547.05,202.94 L547.80,203.68 L548.55,204.33 L549.30,204.89 L550.05,205.39 L550.80,205.83 L551.55,206.24 L552.30,206.63 L553.05,207.01 L553.80,207.40 L554.55,207.81 L555.30,208.24 L556.05,208.69 L556.80,209.16 L557.55,209.64 L558.30,210.11 L559.05,210.58 L559.80,211.02 L560.55,211.45 L561.30,211.83 L562.05,212.19 L562.80,212.51 L563.55,212.80 L564.30,213.06 L565.05,213.29 L565.80,213.49 L566.55,213.68 L567.30,213.85 L568.05,214.01 L568.80,214.16 L569.55,214.30 L570.30,214.43 L571.05,214.55 L571.80,214.67 L572.55,214.78 L573.30,214.89 L574.05,214.99 L574.80,215.09 L575.55,215.18 L576.30,215.27 L577.05,215.36 L577.80,215.44 L578.55,215.52 L579.30,215.60 L580.05,215.68 L580.80,215.75 L581.55,215.83 L582.30,215.90 L583.05,215.97 L583.80,216.04 L584.55,216.11 L585.30,216.18 L586.05,216.25 L586.80,216.32 L587.55,216.39 L588.30,216.45 L589.05,216.52 L589.80,216.58 L590.55,216.64 L591.30,216.70 L592.05,216.75 L592.80,216.81 L593.55,216.86 L594.30,216.91 L595.05,216.95 L595.80,217.00 L596.55,217.04 L597.30,217.08 L598.05,217.12 L598.80,217.15 L599.55,217.19 L600.30,217.22 L601.05,217.25 L601.80,217.28 L602.55,217.31 L603.30,217.34 L604.05,217.37 L604.80,217.40 L605.55,217.42 L606.30,217.45 L607.05,217.47 L607.80,217.50 L608.55,217.52 L609.30,217.54 L610.05,217.56 L610.80,217.59 L611.55,217.61 L612.30,217.63 L613.05,217.65 L613.80,217.67 L614.55,217.69 L615.30,217.71 L616.05,217.72 L616.80,217.74 L617.55,217.76 L618.30,217.78 L619.05,217.80 L619.80,217.81 L620.55,217.83 L621.30,217.85 L622.05,217.86 L622.80,217.88 L623.55,217.89 L624.30,217.91 L625.05,217.92 L625.80,217.94 L626.55,217.95 L627.30,217.97 L628.05,217.98 L628.80,218.00 L629.55,218.01 L630.30,218.03 L631.05,218.04 L631.80,218.05 L632.55,218.07 L633.30,218.08 L634.05,218.09 L634.80,218.11 L635.55,218.12 L636.30,218.13 L637.05,218.14 L637.80,218.16 L638.55,218.17 L639.30,218.18 L640.05,218.19 L640.80,218.20 L641.55,218.22 L642.30,218.23 L643.05,218.24 L643.80,218.25 L644.55,218.26 L645.30,218.27 L646.05,218.28 L646.80,218.30 L647.55,218.31 L648.30,218.32 L649.05,218.33 L649.80,218.34 L650.55,218.35 L651.30,218.36 L652.05,218.37 L652.80,218.38 L653.55,218.39 L654.30,218.40 L655.05,218.41 L655.80,218.42 L656.55,218.43 L657.30,218.43 L658.05,218.44 L658.80,218.45 L659.55,218.46 L660.30,218.47 L661.05,218.48 L661.80,218.49 L662.55,218.50 L663.30,218.50 L664.05,218.51 L664.80,218.52 L665.55,218.53 L666.30,218.54 L667.05,218.54 L667.80,218.55 L668.55,218.56 L669.30,218.57 L670.05,218.57 L670.80,218.58 L671.55,218.59 L672.30,218.59 L673.05,218.60 L673.80,218.61 L674.55,218.61 L675.30,218.62 L676.05,218.63 L676.80,218.63 L677.55,218.64 L678.30,218.64 L679.00,218.65" stroke="#1f77b4"/><line x1="502.80" y1="218.90" x2="502.80" y2="0.90" stroke="#000" stroke-width="2.98" stroke-dasharray="2.98 4.93"/></g><path d="M398.28,218.90v6.9M433.12,218.90v6.9M467.96,218.90v6.9M502.80,218.90v6.9M537.64,218.90v6.9M572.48,218.90v6.9M607.32,218.90v6.9M642.16,218.90v6.9M677.00,218.90v6.9M398.30,218.90h-6.9M398.30,160.76h-6.9M398.30,102.62h-6.9M398.30,44.48h-6.9" stroke="#000" stroke-width="1.5" fill="none"/><path d="M415.70,218.90v3.8M450.54,218.90v3.8M485.38,218.90v3.8M520.22,218.90v3.8M555.06,218.90v3.8M589.90,218.90v3.8M624.74,218.90v3.8M659.58,218.90v3.8" stroke="#000" stroke-width="1.15" fill="none"/><rect x="398.30" y="0.90" width="278.70" height="218.00" fill="none" stroke="#000" stroke-width="1.6"/><text x="398.28" y="243.00" font-size="14.84" text-anchor="middle" textLength="20.64" lengthAdjust="spacingAndGlyphs">−6</text><text x="433.12" y="243.00" font-size="14.84" text-anchor="middle" textLength="20.64" lengthAdjust="spacingAndGlyphs">−4</text><text x="467.96" y="243.00" font-size="14.84" text-anchor="middle" textLength="20.64" lengthAdjust="spacingAndGlyphs">−2</text><text x="502.80" y="243.00" font-size="14.84" text-anchor="middle" textLength="8.91" lengthAdjust="spacingAndGlyphs">0</text><text x="537.64" y="243.00" font-size="14.84" text-anchor="middle" textLength="8.91" lengthAdjust="spacingAndGlyphs">2</text><text x="572.48" y="243.00" font-size="14.84" text-anchor="middle" textLength="8.91" lengthAdjust="spacingAndGlyphs">4</text><text x="607.32" y="243.00" font-size="14.84" text-anchor="middle" textLength="8.91" lengthAdjust="spacingAndGlyphs">6</text><text x="642.16" y="243.00" font-size="14.84" text-anchor="middle" textLength="8.91" lengthAdjust="spacingAndGlyphs">8</text><text x="677.00" y="243.00" font-size="14.84" text-anchor="middle" textLength="17.81" lengthAdjust="spacingAndGlyphs">10</text><text x="537.65" y="266.40" font-size="16.96" text-anchor="middle" textLength="275.42" lengthAdjust="spacingAndGlyphs">free − school (bedtime start) (hrs)</text><text transform="translate(413.04,26.49) scale(0.192,0.205)" font-size="100" font-weight="bold" stroke="#000" stroke-width="3.4" stroke-linejoin="round">B</text></g><g><g clip-path="url(#cC)" fill="none" stroke-width="2.9" stroke-linejoin="round"><path d="M95.00,522.89 L95.75,522.85 L96.50,522.81 L97.25,522.77 L98.00,522.73 L98.75,522.69 L99.50,522.65 L100.25,522.60 L101.00,522.55 L101.75,522.51 L102.50,522.46 L103.25,522.41 L104.00,522.35 L104.75,522.30 L105.50,522.24 L106.25,522.19 L107.00,522.13 L107.75,522.07 L108.50,522.01 L109.25,521.95 L110.00,521.88 L110.75,521.82 L111.50,521.75 L112.25,521.68 L113.00,521.61 L113.75,521.54 L114.50,521.46 L115.25,521.39 L116.00,521.31 L116.75,521.23 L117.50,521.15 L118.25,521.07 L119.00,520.99 L119.75,520.90 L120.50,520.81 L121.25,520.72 L122.00,520.63 L122.75,520.54 L123.50,520.45 L124.25,520.35 L125.00,520.25 L125.75,520.14 L126.50,520.03 L127.25,519.91 L128.00,519.79 L128.75,519.65 L129.50,519.51 L130.25,519.35 L131.00,519.17 L131.75,518.97 L132.50,518.74 L133.25,518.49 L134.00,518.20 L134.75,517.88 L135.50,517.51 L136.25,517.10 L137.00,516.64 L137.75,516.14 L138.50,515.59 L139.25,514.99 L140.00,514.36 L140.75,513.68 L141.50,512.98 L142.25,512.27 L143.00,511.54 L143.75,510.82 L144.50,510.11 L145.25,509.42 L146.00,508.76 L146.75,508.13 L147.50,507.55 L148.25,506.99 L149.00,506.47 L149.75,505.96 L150.50,505.47 L151.25,504.96 L152.00,504.44 L152.75,503.86 L153.50,503.22 L154.25,502.49 L155.00,501.65 L155.75,500.68 L156.50,499.57 L157.25,498.29 L158.00,496.83 L158.75,495.18 L159.50,493.33 L160.25,491.27 L161.00,489.00 L161.75,486.53 L162.50,483.84 L163.25,480.94 L164.00,477.83 L164.75,474.53 L165.50,471.03 L166.25,467.35 L167.00,463.49 L167.75,459.47 L168.50,455.31 L169.25,451.01 L170.00,446.59 L170.75,442.08 L171.50,437.48 L172.25,432.83 L173.00,428.15 L173.75,423.45 L174.50,418.76 L175.25,414.11 L176.00,409.51 L176.75,404.98 L177.50,400.56 L178.25,396.25 L179.00,392.08 L179.75,388.08 L180.50,384.28 L181.25,380.69 L182.00,377.37 L182.75,374.34 L183.50,371.65 L184.25,369.35 L185.00,367.48 L185.75,366.08 L186.50,365.20 L187.25,364.86 L188.00,365.08 L188.75,365.85 L189.50,367.17 L190.25,369.01 L191.00,371.33 L191.75,374.10 L192.50,377.25 L193.25,380.75 L194.00,384.52 L194.75,388.54 L195.50,392.76 L196.25,397.14 L197.00,401.64 L197.75,406.25 L198.50,410.93 L199.25,415.66 L200.00,420.43 L200.75,425.20 L201.50,429.97 L202.25,434.71 L203.00,439.41 L203.75,444.03 L204.50,448.57 L205.25,453.01 L206.00,457.33 L206.75,461.51 L207.50,465.55 L208.25,469.44 L209.00,473.15 L209.75,476.70 L210.50,480.06 L211.25,483.25 L212.00,486.24 L212.75,489.06 L213.50,491.69 L214.25,494.14 L215.00,496.41 L215.75,498.50 L216.50,500.43 L217.25,502.19 L218.00,503.79 L218.75,505.24 L219.50,506.55 L220.25,507.73 L221.00,508.78 L221.75,509.71 L222.50,510.53 L223.25,511.26 L224.00,511.90 L224.75,512.46 L225.50,512.95 L226.25,513.38 L227.00,513.77 L227.75,514.11 L228.50,514.43 L229.25,514.72 L230.00,515.00 L230.75,515.27 L231.50,515.54 L232.25,515.81 L233.00,516.08 L233.75,516.35 L234.50,516.63 L235.25,516.92 L236.00,517.21 L236.75,517.50 L237.50,517.79 L238.25,518.08 L239.00,518.37 L239.75,518.65 L240.50,518.92 L241.25,519.18 L242.00,519.42 L242.75,519.65 L243.50,519.87 L244.25,520.08 L245.00,520.27 L245.75,520.44 L246.50,520.60 L247.25,520.75 L248.00,520.89 L248.75,521.01 L249.50,521.13 L250.25,521.23 L251.00,521.33 L251.75,521.42 L252.50,521.51 L253.25,521.59 L254.00,521.67 L254.75,521.74 L255.50,521.81 L256.25,521.87 L257.00,521.94 L257.75,522.00 L258.50,522.06 L259.25,522.12 L260.00,522.17 L260.75,522.23 L261.50,522.28 L262.25,522.33 L263.00,522.38 L263.75,522.43 L264.50,522.47 L265.25,522.52 L266.00,522.56 L266.75,522.60 L267.50,522.65 L268.25,522.69 L269.00,522.72 L269.75,522.76 L270.50,522.80 L271.25,522.83 L272.00,522.87 L272.75,522.90 L273.50,522.93 L274.25,522.96 L275.00,522.99 L275.75,523.02 L276.50,523.05 L277.25,523.07 L278.00,523.10 L278.75,523.12 L279.50,523.14 L280.25,523.17 L281.00,523.19 L281.75,523.21 L282.50,523.23 L283.25,523.25 L284.00,523.27 L284.75,523.29 L285.50,523.30 L286.25,523.32 L287.00,523.34 L287.75,523.35 L288.50,523.37 L289.25,523.38 L290.00,523.39" stroke="#e377c2"/><path d="M88.90,522.49 L89.65,522.43 L90.40,522.37 L91.15,522.32 L91.90,522.26 L92.65,522.20 L93.40,522.15 L94.15,522.09 L94.90,522.04 L95.65,521.99 L96.40,521.94 L97.15,521.89 L97.90,521.84 L98.65,521.79 L99.40,521.75 L100.15,521.70 L100.90,521.66 L101.65,521.62 L102.40,521.59 L103.15,521.55 L103.90,521.52 L104.65,521.49 L105.40,521.46 L106.15,521.43 L106.90,521.41 L107.65,521.38 L108.40,521.36 L109.15,521.34 L109.90,521.32 L110.65,521.30 L111.40,521.28 L112.15,521.27 L112.90,521.25 L113.65,521.24 L114.40,521.22 L115.15,521.21 L115.90,521.19 L116.65,521.17 L117.40,521.16 L118.15,521.14 L118.90,521.12 L119.65,521.10 L120.40,521.08 L121.15,521.05 L121.90,521.03 L122.65,521.00 L123.40,520.96 L124.15,520.93 L124.90,520.89 L125.65,520.85 L126.40,520.80 L127.15,520.75 L127.90,520.70 L128.65,520.64 L129.40,520.58 L130.15,520.51 L130.90,520.43 L131.65,520.35 L132.40,520.27 L133.15,520.18 L133.90,520.08 L134.65,519.97 L135.40,519.86 L136.15,519.73 L136.90,519.60 L137.65,519.46 L138.40,519.30 L139.15,519.14 L139.90,518.96 L140.65,518.77 L141.40,518.56 L142.15,518.33 L142.90,518.08 L143.65,517.81 L144.40,517.51 L145.15,517.19 L145.90,516.83 L146.65,516.43 L147.40,516.00 L148.15,515.51 L148.90,514.97 L149.65,514.37 L150.40,513.70 L151.15,512.96 L151.90,512.13 L152.65,511.20 L153.40,510.17 L154.15,509.01 L154.90,507.73 L155.65,506.30 L156.40,504.71 L157.15,502.95 L157.90,501.01 L158.65,498.87 L159.40,496.52 L160.15,493.94 L160.90,491.13 L161.65,488.08 L162.40,484.77 L163.15,481.21 L163.90,477.39 L164.65,473.31 L165.40,468.98 L166.15,464.40 L166.90,459.59 L167.65,454.56 L168.40,449.34 L169.15,443.96 L169.90,438.43 L170.65,432.81 L171.40,427.13 L172.15,421.42 L172.90,415.75 L173.65,410.15 L174.40,404.68 L175.15,399.39 L175.90,394.33 L176.65,389.54 L177.40,385.09 L178.15,381.01 L178.90,377.34 L179.65,374.12 L180.40,371.38 L181.15,369.14 L181.90,367.43 L182.65,366.23 L183.40,365.56 L184.15,365.41 L184.90,365.75 L185.65,366.56 L186.40,367.80 L187.15,369.44 L187.90,371.41 L188.65,373.68 L189.40,376.18 L190.15,378.86 L190.90,381.66 L191.65,384.53 L192.40,387.42 L193.15,390.30 L193.90,393.14 L194.65,395.91 L195.40,398.61 L196.15,401.25 L196.90,403.85 L197.65,406.43 L198.40,409.02 L199.15,411.68 L199.90,414.42 L200.65,417.31 L201.40,420.36 L202.15,423.62 L202.90,427.08 L203.65,430.76 L204.40,434.65 L205.15,438.72 L205.90,442.95 L206.65,447.29 L207.40,451.69 L208.15,456.11 L208.90,460.48 L209.65,464.77 L210.40,468.92 L211.15,472.90 L211.90,476.66 L212.65,480.20 L213.40,483.50 L214.15,486.54 L214.90,489.33 L215.65,491.88 L216.40,494.20 L217.15,496.31 L217.90,498.22 L218.65,499.95 L219.40,501.52 L220.15,502.95 L220.90,504.26 L221.65,505.46 L222.40,506.55 L223.15,507.57 L223.90,508.51 L224.65,509.38 L225.40,510.19 L226.15,510.95 L226.90,511.66 L227.65,512.32 L228.40,512.95 L229.15,513.53 L229.90,514.08 L230.65,514.59 L231.40,515.07 L232.15,515.52 L232.90,515.94 L233.65,516.34 L234.40,516.71 L235.15,517.05 L235.90,517.38 L236.65,517.68 L237.40,517.97 L238.15,518.24 L238.90,518.49 L239.65,518.73 L240.40,518.95 L241.15,519.16 L241.90,519.35 L242.65,519.54 L243.40,519.72 L244.15,519.88 L244.90,520.04 L245.65,520.19 L246.40,520.33 L247.15,520.46 L247.90,520.59 L248.65,520.71 L249.40,520.82 L250.15,520.93 L250.90,521.04 L251.65,521.14 L252.40,521.23 L253.15,521.32 L253.90,521.41 L254.65,521.50 L255.40,521.58 L256.15,521.66 L256.90,521.73 L257.65,521.80 L258.40,521.87 L259.15,521.94 L259.90,522.00 L260.65,522.06 L261.40,522.12 L262.15,522.18 L262.90,522.23 L263.65,522.29 L264.40,522.34 L265.15,522.39 L265.90,522.43 L266.65,522.48 L267.40,522.52 L268.15,522.56 L268.90,522.60 L269.65,522.64 L270.40,522.68 L271.15,522.71 L271.90,522.75 L272.65,522.78 L273.40,522.81 L274.15,522.84 L274.90,522.87 L275.65,522.89 L276.40,522.92 L277.15,522.94 L277.90,522.97 L278.65,522.99 L279.40,523.01 L280.15,523.03 L280.90,523.05 L281.65,523.07 L282.40,523.09 L283.15,523.10 L283.90,523.12 L284.65,523.14 L285.40,523.15 L286.15,523.16 L286.90,523.18 L287.65,523.19 L288.40,523.20 L289.15,523.21 L289.90,523.22 L290.65,523.24 L291.40,523.25 L292.15,523.25 L292.90,523.26 L293.65,523.27 L294.40,523.28 L295.15,523.29 L295.90,523.30 L296.65,523.30 L297.40,523.31 L298.15,523.32 L298.90,523.32 L299.65,523.33 L300.00,523.33" stroke="#8c564b"/><path d="M110.00,523.27 L110.75,523.25 L111.50,523.22 L112.25,523.20 L113.00,523.17 L113.75,523.14 L114.50,523.12 L115.25,523.09 L116.00,523.07 L116.75,523.04 L117.50,523.02 L118.25,522.99 L119.00,522.96 L119.75,522.93 L120.50,522.91 L121.25,522.88 L122.00,522.84 L122.75,522.81 L123.50,522.78 L124.25,522.74 L125.00,522.70 L125.75,522.66 L126.50,522.61 L127.25,522.57 L128.00,522.51 L128.75,522.46 L129.50,522.39 L130.25,522.33 L131.00,522.26 L131.75,522.18 L132.50,522.10 L133.25,522.01 L134.00,521.91 L134.75,521.81 L135.50,521.69 L136.25,521.58 L137.00,521.45 L137.75,521.31 L138.50,521.17 L139.25,521.02 L140.00,520.85 L140.75,520.68 L141.50,520.50 L142.25,520.31 L143.00,520.10 L143.75,519.89 L144.50,519.66 L145.25,519.43 L146.00,519.18 L146.75,518.91 L147.50,518.64 L148.25,518.35 L149.00,518.05 L149.75,517.73 L150.50,517.40 L151.25,517.05 L152.00,516.69 L152.75,516.30 L153.50,515.90 L154.25,515.48 L155.00,515.03 L155.75,514.57 L156.50,514.07 L157.25,513.55 L158.00,513.00 L158.75,512.42 L159.50,511.81 L160.25,511.15 L161.00,510.46 L161.75,509.72 L162.50,508.93 L163.25,508.09 L164.00,507.18 L164.75,506.22 L165.50,505.19 L166.25,504.08 L167.00,502.89 L167.75,501.62 L168.50,500.25 L169.25,498.79 L170.00,497.22 L170.75,495.55 L171.50,493.75 L172.25,491.84 L173.00,489.80 L173.75,487.64 L174.50,485.34 L175.25,482.91 L176.00,480.34 L176.75,477.63 L177.50,474.79 L178.25,471.82 L179.00,468.72 L179.75,465.50 L180.50,462.16 L181.25,458.72 L182.00,455.18 L182.75,451.56 L183.50,447.87 L184.25,444.13 L185.00,440.35 L185.75,436.55 L186.50,432.75 L187.25,428.98 L188.00,425.24 L188.75,421.57 L189.50,417.99 L190.25,414.51 L191.00,411.15 L191.75,407.94 L192.50,404.89 L193.25,402.02 L194.00,399.35 L194.75,396.88 L195.50,394.64 L196.25,392.63 L197.00,390.85 L197.75,389.32 L198.50,388.04 L199.25,387.00 L200.00,386.21 L200.75,385.67 L201.50,385.36 L202.25,385.29 L203.00,385.44 L203.75,385.81 L204.50,386.39 L205.25,387.16 L206.00,388.12 L206.75,389.27 L207.50,390.58 L208.25,392.04 L209.00,393.66 L209.75,395.42 L210.50,397.31 L211.25,399.32 L212.00,401.46 L212.75,403.70 L213.50,406.06 L214.25,408.51 L215.00,411.06 L215.75,413.71 L216.50,416.44 L217.25,419.26 L218.00,422.15 L218.75,425.12 L219.50,428.16 L220.25,431.26 L221.00,434.41 L221.75,437.60 L222.50,440.83 L223.25,444.10 L224.00,447.37 L224.75,450.66 L225.50,453.94 L226.25,457.21 L227.00,460.46 L227.75,463.67 L228.50,466.83 L229.25,469.93 L230.00,472.97 L230.75,475.92 L231.50,478.80 L232.25,481.57 L233.00,484.25 L233.75,486.82 L234.50,489.27 L235.25,491.61 L236.00,493.84 L236.75,495.94 L237.50,497.93 L238.25,499.79 L239.00,501.54 L239.75,503.17 L240.50,504.69 L241.25,506.10 L242.00,507.40 L242.75,508.61 L243.50,509.72 L244.25,510.74 L245.00,511.68 L245.75,512.54 L246.50,513.32 L247.25,514.04 L248.00,514.70 L248.75,515.29 L249.50,515.84 L250.25,516.34 L251.00,516.79 L251.75,517.20 L252.50,517.58 L253.25,517.92 L254.00,518.24 L254.75,518.53 L255.50,518.79 L256.25,519.04 L257.00,519.26 L257.75,519.47 L258.50,519.66 L259.25,519.84 L260.00,520.00 L260.75,520.16 L261.50,520.30 L262.25,520.43 L263.00,520.56 L263.75,520.67 L264.50,520.78 L265.25,520.88 L266.00,520.98 L266.75,521.07 L267.50,521.15 L268.25,521.23 L269.00,521.30 L269.75,521.37 L270.50,521.44 L271.25,521.50 L272.00,521.56 L272.75,521.62 L273.50,521.67 L274.25,521.72 L275.00,521.77 L275.75,521.82 L276.50,521.86 L277.25,521.90 L278.00,521.94 L278.75,521.98 L279.50,522.02 L280.25,522.06 L281.00,522.09 L281.75,522.12 L282.50,522.16 L283.25,522.19 L284.00,522.22 L284.75,522.25 L285.50,522.27 L286.25,522.30 L287.00,522.33 L287.75,522.36 L288.50,522.38 L289.25,522.41 L290.00,522.44 L290.75,522.46 L291.50,522.49 L292.25,522.51 L293.00,522.53 L293.75,522.56 L294.50,522.58 L295.25,522.61 L296.00,522.63 L296.75,522.65 L297.50,522.68 L298.25,522.70 L299.00,522.72 L299.75,522.74 L300.50,522.77 L301.25,522.79 L302.00,522.81 L302.75,522.83 L303.50,522.85 L304.25,522.87 L305.00,522.89 L305.75,522.92 L306.50,522.94 L307.25,522.96 L308.00,522.98 L308.75,523.00 L309.50,523.02 L310.25,523.04 L311.00,523.05 L311.75,523.07 L312.50,523.09 L313.25,523.11 L314.00,523.13 L314.75,523.14 L315.50,523.16 L316.25,523.18 L317.00,523.19 L317.75,523.21 L318.50,523.23 L319.25,523.24 L320.00,523.26" stroke="#9467bd"/><path d="M115.00,523.26 L115.75,523.23 L116.50,523.20 L117.25,523.17 L118.00,523.14 L118.75,523.10 L119.50,523.07 L120.25,523.03 L121.00,523.00 L121.75,522.96 L122.50,522.92 L123.25,522.88 L124.00,522.84 L124.75,522.80 L125.50,522.76 L126.25,522.71 L127.00,522.67 L127.75,522.62 L128.50,522.57 L129.25,522.53 L130.00,522.48 L130.75,522.42 L131.50,522.37 L132.25,522.32 L133.00,522.26 L133.75,522.20 L134.50,522.14 L135.25,522.08 L136.00,522.02 L136.75,521.95 L137.50,521.88 L138.25,521.81 L139.00,521.74 L139.75,521.65 L140.50,521.57 L141.25,521.47 L142.00,521.37 L142.75,521.26 L143.50,521.13 L144.25,521.00 L145.00,520.85 L145.75,520.68 L146.50,520.50 L147.25,520.29 L148.00,520.06 L148.75,519.81 L149.50,519.53 L150.25,519.23 L151.00,518.90 L151.75,518.54 L152.50,518.16 L153.25,517.75 L154.00,517.32 L154.75,516.86 L155.50,516.39 L156.25,515.89 L157.00,515.38 L157.75,514.84 L158.50,514.28 L159.25,513.70 L160.00,513.09 L160.75,512.44 L161.50,511.76 L162.25,511.03 L163.00,510.24 L163.75,509.39 L164.50,508.46 L165.25,507.45 L166.00,506.34 L166.75,505.13 L167.50,503.80 L168.25,502.35 L169.00,500.78 L169.75,499.07 L170.50,497.22 L171.25,495.24 L172.00,493.11 L172.75,490.85 L173.50,488.45 L174.25,485.91 L175.00,483.24 L175.75,480.46 L176.50,477.55 L177.25,474.54 L178.00,471.44 L178.75,468.24 L179.50,464.97 L180.25,461.64 L181.00,458.26 L181.75,454.84 L182.50,451.39 L183.25,447.94 L184.00,444.48 L184.75,441.04 L185.50,437.62 L186.25,434.25 L187.00,430.92 L187.75,427.66 L188.50,424.47 L189.25,421.35 L190.00,418.33 L190.75,415.41 L191.50,412.59 L192.25,409.88 L193.00,407.29 L193.75,404.82 L194.50,402.48 L195.25,400.27 L196.00,398.20 L196.75,396.28 L197.50,394.49 L198.25,392.86 L199.00,391.38 L199.75,390.06 L200.50,388.91 L201.25,387.92 L202.00,387.10 L202.75,386.45 L203.50,385.98 L204.25,385.69 L205.00,385.59 L205.75,385.67 L206.50,385.94 L207.25,386.41 L208.00,387.06 L208.75,387.90 L209.50,388.94 L210.25,390.16 L211.00,391.56 L211.75,393.15 L212.50,394.92 L213.25,396.86 L214.00,398.96 L214.75,401.22 L215.50,403.63 L216.25,406.18 L217.00,408.86 L217.75,411.66 L218.50,414.56 L219.25,417.57 L220.00,420.66 L220.75,423.82 L221.50,427.05 L222.25,430.32 L223.00,433.63 L223.75,436.97 L224.50,440.32 L225.25,443.67 L226.00,447.00 L226.75,450.32 L227.50,453.61 L228.25,456.85 L229.00,460.05 L229.75,463.19 L230.50,466.26 L231.25,469.26 L232.00,472.19 L232.75,475.02 L233.50,477.77 L234.25,480.43 L235.00,482.99 L235.75,485.45 L236.50,487.81 L237.25,490.07 L238.00,492.23 L238.75,494.28 L239.50,496.23 L240.25,498.08 L241.00,499.82 L241.75,501.47 L242.50,503.02 L243.25,504.48 L244.00,505.84 L244.75,507.11 L245.50,508.29 L246.25,509.39 L247.00,510.41 L247.75,511.34 L248.50,512.20 L249.25,512.99 L250.00,513.71 L250.75,514.35 L251.50,514.94 L252.25,515.46 L253.00,515.92 L253.75,516.32 L254.50,516.67 L255.25,516.97 L256.00,517.22 L256.75,517.44 L257.50,517.61 L258.25,517.74 L259.00,517.85 L259.75,517.93 L260.50,517.98 L261.25,518.03 L262.00,518.05 L262.75,518.08 L263.50,518.10 L264.25,518.12 L265.00,518.14 L265.75,518.18 L266.50,518.23 L267.25,518.29 L268.00,518.37 L268.75,518.46 L269.50,518.57 L270.25,518.69 L271.00,518.83 L271.75,518.98 L272.50,519.14 L273.25,519.31 L274.00,519.49 L274.75,519.67 L275.50,519.85 L276.25,520.03 L277.00,520.20 L277.75,520.37 L278.50,520.53 L279.25,520.68 L280.00,520.83 L280.75,520.96 L281.50,521.08 L282.25,521.19 L283.00,521.29 L283.75,521.38 L284.50,521.47 L285.25,521.54 L286.00,521.61 L286.75,521.67 L287.50,521.72 L288.25,521.77 L289.00,521.82 L289.75,521.86 L290.50,521.90 L291.25,521.93 L292.00,521.97 L292.75,522.00 L293.50,522.03 L294.25,522.06 L295.00,522.10 L295.75,522.12 L296.50,522.15 L297.25,522.18 L298.00,522.21 L298.75,522.24 L299.50,522.27 L300.25,522.30 L301.00,522.33 L301.75,522.35 L302.50,522.38 L303.25,522.41 L304.00,522.44 L304.75,522.47 L305.50,522.49 L306.25,522.52 L307.00,522.55 L307.75,522.58 L308.50,522.61 L309.25,522.63 L310.00,522.66 L310.75,522.69 L311.50,522.71 L312.25,522.74 L313.00,522.77 L313.75,522.79 L314.50,522.82 L315.25,522.84 L316.00,522.87 L316.75,522.89 L317.50,522.92 L318.25,522.94 L319.00,522.97 L319.75,522.99 L320.00,523.00" stroke="#d62728"/><path d="M107.00,522.10 L107.75,522.06 L108.50,522.01 L109.25,521.96 L110.00,521.90 L110.75,521.85 L111.50,521.80 L112.25,521.75 L113.00,521.69 L113.75,521.64 L114.50,521.58 L115.25,521.53 L116.00,521.47 L116.75,521.42 L117.50,521.36 L118.25,521.30 L119.00,521.25 L119.75,521.19 L120.50,521.13 L121.25,521.08 L122.00,521.02 L122.75,520.96 L123.50,520.91 L124.25,520.85 L125.00,520.80 L125.75,520.74 L126.50,520.69 L127.25,520.63 L128.00,520.58 L128.75,520.52 L129.50,520.47 L130.25,520.42 L131.00,520.37 L131.75,520.32 L132.50,520.26 L133.25,520.21 L134.00,520.16 L134.75,520.11 L135.50,520.06 L136.25,520.01 L137.00,519.96 L137.75,519.91 L138.50,519.86 L139.25,519.81 L140.00,519.76 L140.75,519.70 L141.50,519.65 L142.25,519.59 L143.00,519.53 L143.75,519.46 L144.50,519.39 L145.25,519.32 L146.00,519.24 L146.75,519.16 L147.50,519.06 L148.25,518.96 L149.00,518.85 L149.75,518.73 L150.50,518.60 L151.25,518.45 L152.00,518.29 L152.75,518.11 L153.50,517.92 L154.25,517.71 L155.00,517.47 L155.75,517.21 L156.50,516.93 L157.25,516.62 L158.00,516.28 L158.75,515.90 L159.50,515.50 L160.25,515.05 L161.00,514.57 L161.75,514.04 L162.50,513.47 L163.25,512.84 L164.00,512.17 L164.75,511.44 L165.50,510.64 L166.25,509.79 L167.00,508.86 L167.75,507.85 L168.50,506.77 L169.25,505.58 L170.00,504.30 L170.75,502.91 L171.50,501.39 L172.25,499.74 L173.00,497.93 L173.75,495.96 L174.50,493.79 L175.25,491.42 L176.00,488.83 L176.75,486.00 L177.50,482.90 L178.25,479.54 L179.00,475.89 L179.75,471.96 L180.50,467.75 L181.25,463.26 L182.00,458.52 L182.75,453.55 L183.50,448.39 L184.25,443.08 L185.00,437.67 L185.75,432.21 L186.50,426.77 L187.25,421.39 L188.00,416.14 L188.75,411.07 L189.50,406.23 L190.25,401.64 L191.00,397.35 L191.75,393.37 L192.50,389.71 L193.25,386.37 L194.00,383.35 L194.75,380.64 L195.50,378.23 L196.25,376.09 L197.00,374.22 L197.75,372.61 L198.50,371.24 L199.25,370.11 L200.00,369.23 L200.75,368.60 L201.50,368.24 L202.25,368.14 L203.00,368.33 L203.75,368.83 L204.50,369.64 L205.25,370.78 L206.00,372.25 L206.75,374.05 L207.50,376.20 L208.25,378.67 L209.00,381.46 L209.75,384.55 L210.50,387.92 L211.25,391.54 L212.00,395.40 L212.75,399.45 L213.50,403.67 L214.25,408.02 L215.00,412.47 L215.75,416.99 L216.50,421.55 L217.25,426.12 L218.00,430.67 L218.75,435.17 L219.50,439.60 L220.25,443.95 L221.00,448.20 L221.75,452.32 L222.50,456.31 L223.25,460.17 L224.00,463.88 L224.75,467.43 L225.50,470.83 L226.25,474.08 L227.00,477.17 L227.75,480.10 L228.50,482.89 L229.25,485.52 L230.00,488.02 L230.75,490.37 L231.50,492.60 L232.25,494.69 L233.00,496.66 L233.75,498.52 L234.50,500.26 L235.25,501.90 L236.00,503.43 L236.75,504.87 L237.50,506.22 L238.25,507.48 L239.00,508.66 L239.75,509.76 L240.50,510.78 L241.25,511.74 L242.00,512.62 L242.75,513.45 L243.50,514.21 L244.25,514.91 L245.00,515.57 L245.75,516.17 L246.50,516.72 L247.25,517.22 L248.00,517.68 L248.75,518.10 L249.50,518.48 L250.25,518.83 L251.00,519.14 L251.75,519.42 L252.50,519.67 L253.25,519.90 L254.00,520.10 L254.75,520.28 L255.50,520.45 L256.25,520.60 L257.00,520.73 L257.75,520.86 L258.50,520.97 L259.25,521.08 L260.00,521.19 L260.75,521.28 L261.50,521.38 L262.25,521.47 L263.00,521.56 L263.75,521.65 L264.50,521.73 L265.25,521.81 L266.00,521.89 L266.75,521.96 L267.50,522.03 L268.25,522.09 L269.00,522.15 L269.75,522.21 L270.50,522.26 L271.25,522.31 L272.00,522.35 L272.75,522.39 L273.50,522.42 L274.25,522.45 L275.00,522.48 L275.75,522.51 L276.50,522.53 L277.25,522.55 L278.00,522.57 L278.75,522.59 L279.50,522.61 L280.25,522.62 L281.00,522.64 L281.75,522.65 L282.50,522.66 L283.25,522.68 L284.00,522.69 L284.75,522.70 L285.50,522.72 L286.25,522.73 L287.00,522.74 L287.75,522.75 L288.50,522.77 L289.25,522.78 L290.00,522.79 L290.75,522.80 L291.50,522.81 L292.25,522.83 L293.00,522.84 L293.75,522.85 L294.50,522.86 L295.25,522.87 L296.00,522.88 L296.75,522.90 L297.50,522.91 L298.25,522.92 L299.00,522.93 L299.75,522.94 L300.50,522.95 L301.25,522.96 L302.00,522.97 L302.75,522.99 L303.50,523.00 L304.25,523.01 L305.00,523.02 L305.75,523.03 L306.50,523.04 L307.25,523.05 L308.00,523.06 L308.75,523.07 L309.50,523.08 L310.25,523.10 L311.00,523.11 L311.75,523.12 L312.50,523.13 L313.25,523.14 L314.00,523.15 L314.75,523.16 L315.50,523.17 L316.25,523.18 L317.00,523.19 L317.75,523.20 L318.50,523.21 L319.25,523.22 L320.00,523.23 L320.75,523.24 L321.50,523.25 L322.25,523.26 L323.00,523.27 L323.75,523.27 L324.50,523.28 L325.25,523.29 L326.00,523.30 L326.75,523.31 L327.50,523.32 L328.25,523.33 L329.00,523.34 L329.75,523.35 L330.50,523.35 L331.25,523.36 L332.00,523.37 L332.75,523.38 L333.50,523.39 L334.25,523.40 L335.00,523.40 L335.75,523.41 L336.50,523.42 L337.25,523.43 L338.00,523.44 L338.75,523.44 L339.50,523.45 L340.25,523.46 L341.00,523.47 L341.75,523.47 L342.50,523.48 L343.25,523.49 L344.00,523.50 L344.75,523.50 L345.00,523.50" stroke="#2ca02c"/><path d="M110.00,523.26 L110.75,523.25 L111.50,523.23 L112.25,523.22 L113.00,523.20 L113.75,523.18 L114.50,523.17 L115.25,523.15 L116.00,523.13 L116.75,523.11 L117.50,523.09 L118.25,523.07 L119.00,523.05 L119.75,523.03 L120.50,523.00 L121.25,522.97 L122.00,522.95 L122.75,522.91 L123.50,522.88 L124.25,522.85 L125.00,522.81 L125.75,522.77 L126.50,522.73 L127.25,522.68 L128.00,522.64 L128.75,522.59 L129.50,522.53 L130.25,522.48 L131.00,522.42 L131.75,522.36 L132.50,522.30 L133.25,522.23 L134.00,522.16 L134.75,522.09 L135.50,522.02 L136.25,521.95 L137.00,521.88 L137.75,521.80 L138.50,521.73 L139.25,521.65 L140.00,521.57 L140.75,521.50 L141.50,521.42 L142.25,521.34 L143.00,521.25 L143.75,521.17 L144.50,521.08 L145.25,520.98 L146.00,520.87 L146.75,520.74 L147.50,520.60 L148.25,520.42 L149.00,520.22 L149.75,519.96 L150.50,519.66 L151.25,519.30 L152.00,518.87 L152.75,518.37 L153.50,517.80 L154.25,517.17 L155.00,516.48 L155.75,515.74 L156.50,514.98 L157.25,514.21 L158.00,513.46 L158.75,512.72 L159.50,512.02 L160.25,511.35 L161.00,510.70 L161.75,510.07 L162.50,509.43 L163.25,508.76 L164.00,508.02 L164.75,507.20 L165.50,506.27 L166.25,505.21 L167.00,504.01 L167.75,502.66 L168.50,501.15 L169.25,499.49 L170.00,497.68 L170.75,495.73 L171.50,493.63 L172.25,491.41 L173.00,489.05 L173.75,486.57 L174.50,483.98 L175.25,481.28 L176.00,478.48 L176.75,475.59 L177.50,472.60 L178.25,469.53 L179.00,466.39 L179.75,463.18 L180.50,459.91 L181.25,456.60 L182.00,453.25 L182.75,449.87 L183.50,446.47 L184.25,443.07 L185.00,439.68 L185.75,436.31 L186.50,432.96 L187.25,429.66 L188.00,426.41 L188.75,423.22 L189.50,420.11 L190.25,417.09 L191.00,414.17 L191.75,411.36 L192.50,408.66 L193.25,406.09 L194.00,403.66 L194.75,401.37 L195.50,399.23 L196.25,397.25 L197.00,395.43 L197.75,393.79 L198.50,392.32 L199.25,391.02 L200.00,389.91 L200.75,388.98 L201.50,388.23 L202.25,387.68 L203.00,387.31 L203.75,387.13 L204.50,387.14 L205.25,387.34 L206.00,387.72 L206.75,388.28 L207.50,389.03 L208.25,389.96 L209.00,391.06 L209.75,392.33 L210.50,393.77 L211.25,395.37 L212.00,397.13 L212.75,399.04 L213.50,401.09 L214.25,403.28 L215.00,405.61 L215.75,408.05 L216.50,410.61 L217.25,413.28 L218.00,416.05 L218.75,418.91 L219.50,421.85 L220.25,424.86 L221.00,427.93 L221.75,431.05 L222.50,434.21 L223.25,437.41 L224.00,440.62 L224.75,443.85 L225.50,447.07 L226.25,450.29 L227.00,453.49 L227.75,456.67 L228.50,459.81 L229.25,462.90 L230.00,465.94 L230.75,468.93 L231.50,471.84 L232.25,474.69 L233.00,477.45 L233.75,480.13 L234.50,482.73 L235.25,485.23 L236.00,487.63 L236.75,489.94 L237.50,492.15 L238.25,494.25 L239.00,496.26 L239.75,498.16 L240.50,499.96 L241.25,501.66 L242.00,503.26 L242.75,504.76 L243.50,506.16 L244.25,507.47 L245.00,508.69 L245.75,509.82 L246.50,510.87 L247.25,511.84 L248.00,512.72 L248.75,513.54 L249.50,514.28 L250.25,514.95 L251.00,515.57 L251.75,516.12 L252.50,516.63 L253.25,517.08 L254.00,517.48 L254.75,517.85 L255.50,518.17 L256.25,518.46 L257.00,518.72 L257.75,518.95 L258.50,519.16 L259.25,519.35 L260.00,519.51 L260.75,519.66 L261.50,519.80 L262.25,519.93 L263.00,520.04 L263.75,520.15 L264.50,520.26 L265.25,520.36 L266.00,520.45 L266.75,520.54 L267.50,520.63 L268.25,520.72 L269.00,520.81 L269.75,520.90 L270.50,520.98 L271.25,521.07 L272.00,521.15 L272.75,521.24 L273.50,521.32 L274.25,521.40 L275.00,521.48 L275.75,521.55 L276.50,521.63 L277.25,521.70 L278.00,521.76 L278.75,521.83 L279.50,521.89 L280.25,521.95 L281.00,522.01 L281.75,522.06 L282.50,522.11 L283.25,522.16 L284.00,522.20 L284.75,522.24 L285.50,522.28 L286.25,522.32 L287.00,522.36 L287.75,522.39 L288.50,522.42 L289.25,522.45 L290.00,522.48 L290.75,522.50 L291.50,522.53 L292.25,522.55 L293.00,522.58 L293.75,522.60 L294.50,522.62 L295.25,522.64 L296.00,522.67 L296.75,522.69 L297.50,522.71 L298.25,522.73 L299.00,522.74 L299.75,522.76 L300.50,522.78 L301.25,522.80 L302.00,522.82 L302.75,522.84 L303.50,522.86 L304.25,522.87 L305.00,522.89 L305.75,522.91 L306.50,522.93 L307.25,522.94 L308.00,522.96 L308.75,522.98 L309.50,522.99 L310.25,523.01 L311.00,523.03 L311.75,523.04 L312.50,523.06 L313.25,523.07 L314.00,523.09 L314.75,523.10 L315.50,523.12 L316.25,523.13 L317.00,523.15 L317.75,523.16 L318.50,523.18 L319.25,523.19 L320.00,523.21" stroke="#ff7f0e"/><path d="M112.00,522.97 L112.75,522.95 L113.50,522.93 L114.25,522.91 L115.00,522.89 L115.75,522.87 L116.50,522.85 L117.25,522.83 L118.00,522.81 L118.75,522.79 L119.50,522.77 L120.25,522.75 L121.00,522.72 L121.75,522.70 L122.50,522.68 L123.25,522.66 L124.00,522.63 L124.75,522.61 L125.50,522.59 L126.25,522.56 L127.00,522.54 L127.75,522.51 L128.50,522.49 L129.25,522.46 L130.00,522.44 L130.75,522.41 L131.50,522.39 L132.25,522.36 L133.00,522.33 L133.75,522.30 L134.50,522.27 L135.25,522.23 L136.00,522.20 L136.75,522.16 L137.50,522.12 L138.25,522.07 L139.00,522.03 L139.75,521.98 L140.50,521.92 L141.25,521.86 L142.00,521.80 L142.75,521.73 L143.50,521.66 L144.25,521.58 L145.00,521.50 L145.75,521.41 L146.50,521.33 L147.25,521.23 L148.00,521.14 L148.75,521.05 L149.50,520.95 L150.25,520.85 L151.00,520.75 L151.75,520.65 L152.50,520.55 L153.25,520.44 L154.00,520.32 L154.75,520.18 L155.50,520.02 L156.25,519.83 L157.00,519.59 L157.75,519.30 L158.50,518.94 L159.25,518.52 L160.00,518.02 L160.75,517.44 L161.50,516.81 L162.25,516.14 L163.00,515.43 L163.75,514.72 L164.50,514.02 L165.25,513.33 L166.00,512.66 L166.75,512.01 L167.50,511.33 L168.25,510.61 L169.00,509.81 L169.75,508.89 L170.50,507.82 L171.25,506.57 L172.00,505.12 L172.75,503.45 L173.50,501.55 L174.25,499.43 L175.00,497.07 L175.75,494.49 L176.50,491.69 L177.25,488.67 L178.00,485.43 L178.75,481.98 L179.50,478.32 L180.25,474.46 L181.00,470.42 L181.75,466.20 L182.50,461.81 L183.25,457.27 L184.00,452.59 L184.75,447.81 L185.50,442.94 L186.25,438.00 L187.00,433.03 L187.75,428.05 L188.50,423.09 L189.25,418.19 L190.00,413.38 L190.75,408.69 L191.50,404.16 L192.25,399.81 L193.00,395.69 L193.75,391.81 L194.50,388.22 L195.25,384.92 L196.00,381.96 L196.75,379.34 L197.50,377.09 L198.25,375.21 L199.00,373.72 L199.75,372.61 L200.50,371.90 L201.25,371.56 L202.00,371.61 L202.75,372.01 L203.50,372.77 L204.25,373.85 L205.00,375.24 L205.75,376.91 L206.50,378.84 L207.25,381.01 L208.00,383.38 L208.75,385.92 L209.50,388.62 L210.25,391.45 L211.00,394.39 L211.75,397.41 L212.50,400.49 L213.25,403.63 L214.00,406.80 L214.75,410.00 L215.50,413.22 L216.25,416.46 L217.00,419.71 L217.75,422.96 L218.50,426.23 L219.25,429.50 L220.00,432.79 L220.75,436.10 L221.50,439.41 L222.25,442.75 L223.00,446.10 L223.75,449.46 L224.50,452.84 L225.25,456.21 L226.00,459.59 L226.75,462.96 L227.50,466.31 L228.25,469.63 L229.00,472.91 L229.75,476.13 L230.50,479.28 L231.25,482.36 L232.00,485.33 L232.75,488.20 L233.50,490.95 L234.25,493.57 L235.00,496.05 L235.75,498.38 L236.50,500.56 L237.25,502.57 L238.00,504.43 L238.75,506.12 L239.50,507.64 L240.25,509.01 L241.00,510.21 L241.75,511.27 L242.50,512.17 L243.25,512.94 L244.00,513.59 L244.75,514.11 L245.50,514.53 L246.25,514.86 L247.00,515.10 L247.75,515.27 L248.50,515.39 L249.25,515.47 L250.00,515.52 L250.75,515.54 L251.50,515.56 L252.25,515.58 L253.00,515.61 L253.75,515.66 L254.50,515.74 L255.25,515.84 L256.00,515.97 L256.75,516.13 L257.50,516.32 L258.25,516.55 L259.00,516.80 L259.75,517.07 L260.50,517.36 L261.25,517.66 L262.00,517.98 L262.75,518.29 L263.50,518.61 L264.25,518.92 L265.00,519.22 L265.75,519.51 L266.50,519.78 L267.25,520.04 L268.00,520.28 L268.75,520.49 L269.50,520.69 L270.25,520.87 L271.00,521.03 L271.75,521.17 L272.50,521.29 L273.25,521.40 L274.00,521.50 L274.75,521.59 L275.50,521.66 L276.25,521.73 L277.00,521.79 L277.75,521.84 L278.50,521.89 L279.25,521.93 L280.00,521.97 L280.75,522.00 L281.50,522.04 L282.25,522.07 L283.00,522.10 L283.75,522.13 L284.50,522.16 L285.25,522.19 L286.00,522.21 L286.75,522.24 L287.50,522.27 L288.25,522.29 L289.00,522.32 L289.75,522.34 L290.50,522.37 L291.25,522.40 L292.00,522.42 L292.75,522.45 L293.50,522.47 L294.25,522.49 L295.00,522.52 L295.75,522.54 L296.50,522.57 L297.25,522.59 L298.00,522.61 L298.75,522.64 L299.50,522.66 L300.25,522.68 L301.00,522.70 L301.75,522.73 L302.50,522.75 L303.25,522.77 L304.00,522.79 L304.75,522.81 L305.50,522.83 L306.25,522.85 L307.00,522.88 L307.75,522.90 L308.50,522.92 L309.25,522.94 L310.00,522.96 L310.75,522.97 L311.50,522.99 L312.25,523.01 L313.00,523.03 L313.75,523.05 L314.50,523.07 L315.25,523.08 L316.00,523.10 L316.75,523.12 L317.50,523.14 L318.25,523.15 L319.00,523.17 L319.75,523.19 L320.50,523.20 L321.25,523.22 L322.00,523.23 L322.75,523.25 L323.50,523.26 L324.25,523.28 L325.00,523.29 L325.75,523.31 L326.50,523.32 L327.25,523.33 L328.00,523.35 L328.75,523.36 L329.50,523.37 L330.00,523.38" stroke="#1f77b4"/><line x1="191.70" y1="523.90" x2="191.70" y2="305.90" stroke="#000" stroke-width="2.98" stroke-dasharray="2.98 4.93"/></g><path d="M99.42,523.90v6.9M130.18,523.90v6.9M160.94,523.90v6.9M191.70,523.90v6.9M222.46,523.90v6.9M253.22,523.90v6.9M283.98,523.90v6.9M314.74,523.90v6.9M345.50,523.90v6.9M78.00,523.90h-6.9M78.00,465.76h-6.9M78.00,407.62h-6.9M78.00,349.48h-6.9" stroke="#000" stroke-width="1.5" fill="none"/><path d="M84.04,523.90v3.8M114.80,523.90v3.8M145.56,523.90v3.8M176.32,523.90v3.8M207.08,523.90v3.8M237.84,523.90v3.8M268.60,523.90v3.8M299.36,523.90v3.8M330.12,523.90v3.8" stroke="#000" stroke-width="1.15" fill="none"/><rect x="78.00" y="305.90" width="278.60" height="218.00" fill="none" stroke="#000" stroke-width="1.6"/><text x="99.42" y="548.00" font-size="14.84" text-anchor="middle" textLength="20.64" lengthAdjust="spacingAndGlyphs">−6</text><text x="130.18" y="548.00" font-size="14.84" text-anchor="middle" textLength="20.64" lengthAdjust="spacingAndGlyphs">−4</text><text x="160.94" y="548.00" font-size="14.84" text-anchor="middle" textLength="20.64" lengthAdjust="spacingAndGlyphs">−2</text><text x="191.70" y="548.00" font-size="14.84" text-anchor="middle" textLength="8.91" lengthAdjust="spacingAndGlyphs">0</text><text x="222.46" y="548.00" font-size="14.84" text-anchor="middle" textLength="8.91" lengthAdjust="spacingAndGlyphs">2</text><text x="253.22" y="548.00" font-size="14.84" text-anchor="middle" textLength="8.91" lengthAdjust="spacingAndGlyphs">4</text><text x="283.98" y="548.00" font-size="14.84" text-anchor="middle" textLength="8.91" lengthAdjust="spacingAndGlyphs">6</text><text x="314.74" y="548.00" font-size="14.84" text-anchor="middle" textLength="8.91" lengthAdjust="spacingAndGlyphs">8</text><text x="345.50" y="548.00" font-size="14.84" text-anchor="middle" textLength="17.81" lengthAdjust="spacingAndGlyphs">10</text><text x="64.00" y="529.20" font-size="14.84" text-anchor="end" textLength="31.17" lengthAdjust="spacingAndGlyphs">0.00</text><text x="64.00" y="471.06" font-size="14.84" text-anchor="end" textLength="31.17" lengthAdjust="spacingAndGlyphs">0.02</text><text x="64.00" y="412.92" font-size="14.84" text-anchor="end" textLength="31.17" lengthAdjust="spacingAndGlyphs">0.04</text><text x="64.00" y="354.78" font-size="14.84" text-anchor="end" textLength="31.17" lengthAdjust="spacingAndGlyphs">0.06</text><text x="217.30" y="571.40" font-size="16.96" text-anchor="middle" textLength="263.17" lengthAdjust="spacingAndGlyphs">free − school (bedtime end)(hrs)</text><text transform="translate(91.93,331.59) scale(0.187,0.204)" font-size="100" font-weight="bold" stroke="#000" stroke-width="3.4" stroke-linejoin="round">C</text></g><g><g clip-path="url(#cD)" fill="none" stroke-width="2.9" stroke-linejoin="round"><path d="M450.00,522.71 L450.75,522.67 L451.50,522.62 L452.25,522.58 L453.00,522.54 L453.75,522.49 L454.50,522.44 L455.25,522.39 L456.00,522.34 L456.75,522.29 L457.50,522.24 L458.25,522.19 L459.00,522.13 L459.75,522.08 L460.50,522.02 L461.25,521.96 L462.00,521.90 L462.75,521.83 L463.50,521.77 L464.25,521.70 L465.00,521.63 L465.75,521.56 L466.50,521.49 L467.25,521.42 L468.00,521.34 L468.75,521.26 L469.50,521.18 L470.25,521.09 L471.00,521.01 L471.75,520.92 L472.50,520.82 L473.25,520.73 L474.00,520.63 L474.75,520.52 L475.50,520.42 L476.25,520.31 L477.00,520.19 L477.75,520.07 L478.50,519.95 L479.25,519.82 L480.00,519.69 L480.75,519.55 L481.50,519.40 L482.25,519.25 L483.00,519.09 L483.75,518.92 L484.50,518.75 L485.25,518.57 L486.00,518.38 L486.75,518.18 L487.50,517.97 L488.25,517.75 L489.00,517.52 L489.75,517.27 L490.50,517.01 L491.25,516.74 L492.00,516.45 L492.75,516.15 L493.50,515.83 L494.25,515.49 L495.00,515.12 L495.75,514.73 L496.50,514.32 L497.25,513.88 L498.00,513.41 L498.75,512.91 L499.50,512.37 L500.25,511.79 L501.00,511.17 L501.75,510.50 L502.50,509.77 L503.25,508.99 L504.00,508.15 L504.75,507.24 L505.50,506.26 L506.25,505.20 L507.00,504.05 L507.75,502.82 L508.50,501.48 L509.25,500.05 L510.00,498.50 L510.75,496.84 L511.50,495.06 L512.25,493.16 L513.00,491.13 L513.75,488.98 L514.50,486.69 L515.25,484.28 L516.00,481.74 L516.75,479.08 L517.50,476.30 L518.25,473.42 L519.00,470.43 L519.75,467.35 L520.50,464.19 L521.25,460.97 L522.00,457.69 L522.75,454.38 L523.50,451.04 L524.25,447.70 L525.00,444.38 L525.75,441.07 L526.50,437.81 L527.25,434.61 L528.00,431.48 L528.75,428.43 L529.50,425.47 L530.25,422.61 L531.00,419.85 L531.75,417.21 L532.50,414.69 L533.25,412.28 L534.00,409.98 L534.75,407.81 L535.50,405.75 L536.25,403.80 L537.00,401.96 L537.75,400.22 L538.50,398.59 L539.25,397.05 L540.00,395.61 L540.75,394.27 L541.50,393.02 L542.25,391.86 L543.00,390.79 L543.75,389.83 L544.50,388.95 L545.25,388.19 L546.00,387.52 L546.75,386.97 L547.50,386.54 L548.25,386.22 L549.00,386.04 L549.75,385.99 L550.50,386.07 L551.25,386.30 L552.00,386.68 L552.75,387.21 L553.50,387.89 L554.25,388.73 L555.00,389.73 L555.75,390.88 L556.50,392.18 L557.25,393.64 L558.00,395.25 L558.75,397.01 L559.50,398.91 L560.25,400.94 L561.00,403.10 L561.75,405.38 L562.50,407.77 L563.25,410.27 L564.00,412.86 L564.75,415.54 L565.50,418.29 L566.25,421.11 L567.00,423.99 L567.75,426.91 L568.50,429.87 L569.25,432.85 L570.00,435.85 L570.75,438.86 L571.50,441.87 L572.25,444.86 L573.00,447.84 L573.75,450.78 L574.50,453.68 L575.25,456.53 L576.00,459.30 L576.75,461.98 L577.50,464.56 L578.25,467.01 L579.00,469.30 L579.75,471.42 L580.50,473.35 L581.25,475.10 L582.00,476.66 L582.75,478.08 L583.50,479.38 L584.25,480.64 L585.00,481.91 L585.75,483.27 L586.50,484.76 L587.25,486.42 L588.00,488.27 L588.75,490.28 L589.50,492.42 L590.25,494.63 L591.00,496.85 L591.75,499.01 L592.50,501.06 L593.25,502.97 L594.00,504.70 L594.75,506.25 L595.50,507.64 L596.25,508.87 L597.00,509.96 L597.75,510.94 L598.50,511.82 L599.25,512.62 L600.00,513.36 L600.75,514.04 L601.50,514.67 L602.25,515.26 L603.00,515.81 L603.75,516.32 L604.50,516.81 L605.25,517.26 L606.00,517.68 L606.75,518.08 L607.50,518.45 L608.25,518.80 L609.00,519.13 L609.75,519.43 L610.50,519.72 L611.25,519.99 L612.00,520.24 L612.75,520.47 L613.50,520.69 L614.25,520.89 L615.00,521.08 L615.75,521.26 L616.50,521.43 L617.25,521.58 L618.00,521.73 L618.75,521.86 L619.50,521.98 L620.25,522.10 L621.00,522.21 L621.75,522.31 L622.50,522.40 L623.25,522.48 L624.00,522.56 L624.75,522.64 L625.50,522.71 L626.25,522.77 L627.00,522.83 L627.75,522.88 L628.50,522.93 L629.25,522.97 L630.00,523.01 L630.75,523.05 L631.50,523.09 L632.25,523.12 L633.00,523.15 L633.75,523.17 L634.50,523.20 L635.25,523.22 L636.00,523.24 L636.75,523.26 L637.50,523.27 L638.25,523.29 L639.00,523.30 L639.75,523.32 L640.00,523.32" stroke="#e377c2"/><path d="M445.00,523.24 L445.75,523.21 L446.50,523.17 L447.25,523.14 L448.00,523.10 L448.75,523.07 L449.50,523.03 L450.25,522.99 L451.00,522.95 L451.75,522.90 L452.50,522.86 L453.25,522.81 L454.00,522.77 L454.75,522.72 L455.50,522.67 L456.25,522.61 L457.00,522.56 L457.75,522.50 L458.50,522.45 L459.25,522.39 L460.00,522.33 L460.75,522.26 L461.50,522.20 L462.25,522.13 L463.00,522.06 L463.75,521.99 L464.50,521.92 L465.25,521.84 L466.00,521.76 L466.75,521.68 L467.50,521.60 L468.25,521.52 L469.00,521.43 L469.75,521.34 L470.50,521.25 L471.25,521.16 L472.00,521.06 L472.75,520.96 L473.50,520.86 L474.25,520.75 L475.00,520.64 L475.75,520.53 L476.50,520.42 L477.25,520.30 L478.00,520.18 L478.75,520.05 L479.50,519.92 L480.25,519.78 L481.00,519.64 L481.75,519.50 L482.50,519.35 L483.25,519.19 L484.00,519.03 L484.75,518.86 L485.50,518.68 L486.25,518.49 L487.00,518.30 L487.75,518.10 L488.50,517.88 L489.25,517.66 L490.00,517.42 L490.75,517.17 L491.50,516.91 L492.25,516.63 L493.00,516.34 L493.75,516.03 L494.50,515.69 L495.25,515.34 L496.00,514.97 L496.75,514.57 L497.50,514.15 L498.25,513.70 L499.00,513.23 L499.75,512.72 L500.50,512.17 L501.25,511.59 L502.00,510.97 L502.75,510.31 L503.50,509.61 L504.25,508.86 L505.00,508.05 L505.75,507.19 L506.50,506.28 L507.25,505.30 L508.00,504.26 L508.75,503.15 L509.50,501.97 L510.25,500.71 L511.00,499.37 L511.75,497.95 L512.50,496.44 L513.25,494.83 L514.00,493.14 L514.75,491.34 L515.50,489.45 L516.25,487.46 L517.00,485.36 L517.75,483.17 L518.50,480.88 L519.25,478.48 L520.00,476.00 L520.75,473.42 L521.50,470.75 L522.25,468.01 L523.00,465.19 L523.75,462.31 L524.50,459.37 L525.25,456.39 L526.00,453.37 L526.75,450.32 L527.50,447.26 L528.25,444.19 L529.00,441.13 L529.75,438.08 L530.50,435.05 L531.25,432.06 L532.00,429.11 L532.75,426.21 L533.50,423.36 L534.25,420.57 L535.00,417.85 L535.75,415.20 L536.50,412.63 L537.25,410.13 L538.00,407.71 L538.75,405.38 L539.50,403.14 L540.25,400.99 L541.00,398.93 L541.75,396.97 L542.50,395.11 L543.25,393.36 L544.00,391.72 L544.75,390.19 L545.50,388.79 L546.25,387.51 L547.00,386.36 L547.75,385.35 L548.50,384.48 L549.25,383.76 L550.00,383.19 L550.75,382.78 L551.50,382.53 L552.25,382.44 L553.00,382.52 L553.75,382.77 L554.50,383.19 L555.25,383.77 L556.00,384.53 L556.75,385.46 L557.50,386.56 L558.25,387.81 L559.00,389.23 L559.75,390.81 L560.50,392.53 L561.25,394.40 L562.00,396.40 L562.75,398.54 L563.50,400.79 L564.25,403.16 L565.00,405.63 L565.75,408.20 L566.50,410.85 L567.25,413.58 L568.00,416.37 L568.75,419.22 L569.50,422.11 L570.25,425.03 L571.00,427.99 L571.75,430.95 L572.50,433.92 L573.25,436.89 L574.00,439.85 L574.75,442.78 L575.50,445.69 L576.25,448.56 L577.00,451.40 L577.75,454.19 L578.50,456.92 L579.25,459.61 L580.00,462.23 L580.75,464.80 L581.50,467.31 L582.25,469.75 L583.00,472.14 L583.75,474.46 L584.50,476.72 L585.25,478.91 L586.00,481.05 L586.75,483.13 L587.50,485.15 L588.25,487.12 L589.00,489.03 L589.75,490.88 L590.50,492.68 L591.25,494.42 L592.00,496.11 L592.75,497.75 L593.50,499.32 L594.25,500.85 L595.00,502.31 L595.75,503.71 L596.50,505.06 L597.25,506.35 L598.00,507.57 L598.75,508.73 L599.50,509.84 L600.25,510.87 L601.00,511.85 L601.75,512.76 L602.50,513.62 L603.25,514.41 L604.00,515.14 L604.75,515.81 L605.50,516.42 L606.25,516.98 L607.00,517.49 L607.75,517.94 L608.50,518.35 L609.25,518.71 L610.00,519.02 L610.75,519.30 L611.50,519.55 L612.25,519.77 L613.00,519.96 L613.75,520.14 L614.50,520.30 L615.25,520.45 L616.00,520.60 L616.75,520.74 L617.50,520.87 L618.25,521.01 L619.00,521.15 L619.75,521.29 L620.50,521.42 L621.25,521.55 L622.00,521.68 L622.75,521.81 L623.50,521.92 L624.25,522.03 L625.00,522.13 L625.75,522.22 L626.50,522.30 L627.25,522.37 L628.00,522.44 L628.75,522.49 L629.50,522.54 L630.25,522.58 L631.00,522.62 L631.75,522.65 L632.50,522.68 L633.25,522.71 L634.00,522.74 L634.75,522.76 L635.50,522.78 L636.25,522.81 L637.00,522.83 L637.75,522.85 L638.50,522.87 L639.25,522.89 L640.00,522.91" stroke="#8c564b"/><path d="M440.00,523.62 L440.75,523.61 L441.50,523.60 L442.25,523.58 L443.00,523.57 L443.75,523.55 L444.50,523.53 L445.25,523.52 L446.00,523.50 L446.75,523.48 L447.50,523.46 L448.25,523.44 L449.00,523.42 L449.75,523.40 L450.50,523.38 L451.25,523.35 L452.00,523.33 L452.75,523.30 L453.50,523.28 L454.25,523.25 L455.00,523.22 L455.75,523.20 L456.50,523.17 L457.25,523.13 L458.00,523.10 L458.75,523.07 L459.50,523.04 L460.25,523.00 L461.00,522.97 L461.75,522.93 L462.50,522.89 L463.25,522.85 L464.00,522.81 L464.75,522.77 L465.50,522.73 L466.25,522.68 L467.00,522.64 L467.75,522.59 L468.50,522.54 L469.25,522.50 L470.00,522.45 L470.75,522.39 L471.50,522.34 L472.25,522.29 L473.00,522.23 L473.75,522.17 L474.50,522.12 L475.25,522.06 L476.00,522.00 L476.75,521.93 L477.50,521.87 L478.25,521.80 L479.00,521.74 L479.75,521.67 L480.50,521.60 L481.25,521.53 L482.00,521.46 L482.75,521.39 L483.50,521.31 L484.25,521.24 L485.00,521.16 L485.75,521.08 L486.50,521.00 L487.25,520.92 L488.00,520.84 L488.75,520.75 L489.50,520.67 L490.25,520.58 L491.00,520.49 L491.75,520.40 L492.50,520.31 L493.25,520.22 L494.00,520.12 L494.75,520.03 L495.50,519.93 L496.25,519.83 L497.00,519.73 L497.75,519.62 L498.50,519.51 L499.25,519.40 L500.00,519.28 L500.75,519.16 L501.50,519.03 L502.25,518.90 L503.00,518.76 L503.75,518.61 L504.50,518.45 L505.25,518.28 L506.00,518.10 L506.75,517.90 L507.50,517.68 L508.25,517.44 L509.00,517.18 L509.75,516.89 L510.50,516.57 L511.25,516.22 L512.00,515.83 L512.75,515.39 L513.50,514.91 L514.25,514.37 L515.00,513.78 L515.75,513.12 L516.50,512.38 L517.25,511.57 L518.00,510.67 L518.75,509.69 L519.50,508.60 L520.25,507.41 L521.00,506.11 L521.75,504.69 L522.50,503.15 L523.25,501.48 L524.00,499.67 L524.75,497.73 L525.50,495.65 L526.25,493.43 L527.00,491.06 L527.75,488.56 L528.50,485.91 L529.25,483.12 L530.00,480.20 L530.75,477.14 L531.50,473.97 L532.25,470.68 L533.00,467.29 L533.75,463.80 L534.50,460.24 L535.25,456.60 L536.00,452.91 L536.75,449.18 L537.50,445.42 L538.25,441.65 L539.00,437.89 L539.75,434.15 L540.50,430.44 L541.25,426.78 L542.00,423.20 L542.75,419.69 L543.50,416.27 L544.25,412.95 L545.00,409.75 L545.75,406.68 L546.50,403.74 L547.25,400.94 L548.00,398.28 L548.75,395.78 L549.50,393.43 L550.25,391.25 L551.00,389.22 L551.75,387.36 L552.50,385.67 L553.25,384.14 L554.00,382.78 L554.75,381.58 L555.50,380.55 L556.25,379.68 L557.00,378.98 L557.75,378.45 L558.50,378.08 L559.25,377.88 L560.00,377.85 L560.75,377.98 L561.50,378.28 L562.25,378.74 L563.00,379.37 L563.75,380.17 L564.50,381.14 L565.25,382.27 L566.00,383.56 L566.75,385.01 L567.50,386.62 L568.25,388.38 L569.00,390.30 L569.75,392.35 L570.50,394.54 L571.25,396.87 L572.00,399.31 L572.75,401.86 L573.50,404.52 L574.25,407.26 L575.00,410.09 L575.75,412.98 L576.50,415.93 L577.25,418.93 L578.00,421.95 L578.75,425.00 L579.50,428.05 L580.25,431.10 L581.00,434.14 L581.75,437.15 L582.50,440.13 L583.25,443.07 L584.00,445.97 L584.75,448.81 L585.50,451.60 L586.25,454.32 L587.00,456.98 L587.75,459.58 L588.50,462.11 L589.25,464.57 L590.00,466.97 L590.75,469.31 L591.50,471.58 L592.25,473.79 L593.00,475.94 L593.75,478.04 L594.50,480.09 L595.25,482.08 L596.00,484.03 L596.75,485.93 L597.50,487.78 L598.25,489.58 L599.00,491.34 L599.75,493.06 L600.50,494.73 L601.25,496.35 L602.00,497.93 L602.75,499.45 L603.50,500.93 L604.25,502.35 L605.00,503.72 L605.75,505.04 L606.50,506.29 L607.25,507.49 L608.00,508.63 L608.75,509.70 L609.50,510.72 L610.25,511.67 L611.00,512.57 L611.75,513.40 L612.50,514.17 L613.25,514.89 L614.00,515.55 L614.75,516.15 L615.50,516.70 L616.25,517.20 L617.00,517.65 L617.75,518.06 L618.50,518.43 L619.25,518.76 L620.00,519.06 L620.75,519.32 L621.50,519.56 L622.25,519.76 L623.00,519.95 L623.75,520.11 L624.50,520.26 L625.25,520.39 L626.00,520.51 L626.75,520.62 L627.50,520.71 L628.25,520.80 L629.00,520.89 L629.75,520.96 L630.50,521.04 L631.25,521.11 L632.00,521.18 L632.75,521.25 L633.50,521.31 L634.25,521.38 L635.00,521.44 L635.75,521.51 L636.50,521.58 L637.25,521.64 L638.00,521.71 L638.75,521.77 L639.50,521.84 L640.25,521.90 L641.00,521.97 L641.75,522.03 L642.50,522.09 L643.25,522.16 L644.00,522.22 L644.75,522.28 L645.50,522.34 L646.25,522.39 L647.00,522.45 L647.75,522.50 L648.50,522.55 L649.25,522.60 L650.00,522.65 L650.75,522.70 L651.50,522.74 L652.25,522.78 L653.00,522.82 L653.75,522.86 L654.50,522.90 L655.25,522.94 L656.00,522.97 L656.75,523.00 L657.50,523.03 L658.25,523.06 L659.00,523.09 L659.75,523.12 L660.50,523.14 L661.25,523.17 L662.00,523.19 L662.75,523.21 L663.50,523.24 L664.25,523.26 L665.00,523.28 L665.75,523.30 L666.00,523.31" stroke="#9467bd"/><path d="M449.00,523.51 L449.75,523.50 L450.50,523.48 L451.25,523.47 L452.00,523.46 L452.75,523.44 L453.50,523.43 L454.25,523.41 L455.00,523.40 L455.75,523.38 L456.50,523.37 L457.25,523.35 L458.00,523.33 L458.75,523.31 L459.50,523.30 L460.25,523.28 L461.00,523.26 L461.75,523.24 L462.50,523.22 L463.25,523.20 L464.00,523.18 L464.75,523.16 L465.50,523.14 L466.25,523.12 L467.00,523.09 L467.75,523.07 L468.50,523.05 L469.25,523.02 L470.00,523.00 L470.75,522.97 L471.50,522.95 L472.25,522.92 L473.00,522.89 L473.75,522.86 L474.50,522.83 L475.25,522.80 L476.00,522.77 L476.75,522.74 L477.50,522.71 L478.25,522.67 L479.00,522.64 L479.75,522.60 L480.50,522.56 L481.25,522.52 L482.00,522.48 L482.75,522.43 L483.50,522.38 L484.25,522.32 L485.00,522.26 L485.75,522.20 L486.50,522.13 L487.25,522.05 L488.00,521.96 L488.75,521.86 L489.50,521.75 L490.25,521.62 L491.00,521.48 L491.75,521.32 L492.50,521.15 L493.25,520.96 L494.00,520.74 L494.75,520.51 L495.50,520.25 L496.25,519.97 L497.00,519.67 L497.75,519.35 L498.50,519.00 L499.25,518.64 L500.00,518.26 L500.75,517.86 L501.50,517.45 L502.25,517.03 L503.00,516.60 L503.75,516.17 L504.50,515.73 L505.25,515.29 L506.00,514.85 L506.75,514.40 L507.50,513.96 L508.25,513.50 L509.00,513.04 L509.75,512.56 L510.50,512.05 L511.25,511.50 L512.00,510.91 L512.75,510.24 L513.50,509.50 L514.25,508.66 L515.00,507.71 L515.75,506.62 L516.50,505.37 L517.25,503.96 L518.00,502.37 L518.75,500.59 L519.50,498.61 L520.25,496.42 L521.00,494.04 L521.75,491.46 L522.50,488.72 L523.25,485.82 L524.00,482.79 L524.75,479.66 L525.50,476.48 L526.25,473.26 L527.00,470.06 L527.75,466.90 L528.50,463.81 L529.25,460.82 L530.00,457.96 L530.75,455.22 L531.50,452.63 L532.25,450.17 L533.00,447.84 L533.75,445.62 L534.50,443.49 L535.25,441.43 L536.00,439.41 L536.75,437.40 L537.50,435.38 L538.25,433.34 L539.00,431.24 L539.75,429.08 L540.50,426.85 L541.25,424.55 L542.00,422.19 L542.75,419.77 L543.50,417.31 L544.25,414.82 L545.00,412.33 L545.75,409.86 L546.50,407.43 L547.25,405.06 L548.00,402.78 L548.75,400.62 L549.50,398.58 L550.25,396.70 L551.00,394.99 L551.75,393.46 L552.50,392.13 L553.25,391.01 L554.00,390.11 L554.75,389.43 L555.50,388.99 L556.25,388.78 L557.00,388.80 L557.75,389.06 L558.50,389.55 L559.25,390.27 L560.00,391.20 L560.75,392.35 L561.50,393.71 L562.25,395.26 L563.00,396.99 L563.75,398.88 L564.50,400.94 L565.25,403.13 L566.00,405.44 L566.75,407.85 L567.50,410.35 L568.25,412.92 L569.00,415.53 L569.75,418.17 L570.50,420.82 L571.25,423.46 L572.00,426.07 L572.75,428.64 L573.50,431.14 L574.25,433.57 L575.00,435.92 L575.75,438.18 L576.50,440.33 L577.25,442.39 L578.00,444.35 L578.75,446.22 L579.50,448.00 L580.25,449.70 L581.00,451.34 L581.75,452.93 L582.50,454.49 L583.25,456.03 L584.00,457.58 L584.75,459.14 L585.50,460.74 L586.25,462.39 L587.00,464.09 L587.75,465.87 L588.50,467.71 L589.25,469.63 L590.00,471.61 L590.75,473.67 L591.50,475.77 L592.25,477.92 L593.00,480.10 L593.75,482.29 L594.50,484.47 L595.25,486.64 L596.00,488.77 L596.75,490.85 L597.50,492.86 L598.25,494.80 L599.00,496.65 L599.75,498.40 L600.50,500.05 L601.25,501.59 L602.00,503.03 L602.75,504.36 L603.50,505.59 L604.25,506.72 L605.00,507.76 L605.75,508.71 L606.50,509.58 L607.25,510.38 L608.00,511.11 L608.75,511.77 L609.50,512.39 L610.25,512.95 L611.00,513.47 L611.75,513.95 L612.50,514.40 L613.25,514.82 L614.00,515.21 L614.75,515.58 L615.50,515.92 L616.25,516.25 L617.00,516.56 L617.75,516.86 L618.50,517.14 L619.25,517.41 L620.00,517.67 L620.75,517.91 L621.50,518.15 L622.25,518.37 L623.00,518.59 L623.75,518.79 L624.50,518.99 L625.25,519.18 L626.00,519.36 L626.75,519.54 L627.50,519.70 L628.25,519.86 L629.00,520.02 L629.75,520.16 L630.50,520.30 L631.25,520.43 L632.00,520.56 L632.75,520.69 L633.50,520.80 L634.25,520.91 L635.00,521.02 L635.75,521.12 L636.50,521.22 L637.25,521.32 L638.00,521.41 L638.75,521.49 L639.50,521.58 L640.25,521.65 L641.00,521.73 L641.75,521.80 L642.50,521.87 L643.25,521.94 L644.00,522.00 L644.75,522.06 L645.00,522.08" stroke="#d62728"/><path d="M409.10,522.74 L409.85,522.72 L410.60,522.71 L411.35,522.69 L412.10,522.67 L412.85,522.65 L413.60,522.63 L414.35,522.62 L415.10,522.60 L415.85,522.58 L416.60,522.56 L417.35,522.54 L418.10,522.53 L418.85,522.51 L419.60,522.49 L420.35,522.47 L421.10,522.45 L421.85,522.44 L422.60,522.42 L423.35,522.40 L424.10,522.38 L424.85,522.37 L425.60,522.35 L426.35,522.33 L427.10,522.31 L427.85,522.29 L428.60,522.28 L429.35,522.26 L430.10,522.24 L430.85,522.22 L431.60,522.21 L432.35,522.19 L433.10,522.17 L433.85,522.16 L434.60,522.14 L435.35,522.12 L436.10,522.11 L436.85,522.09 L437.60,522.07 L438.35,522.06 L439.10,522.04 L439.85,522.03 L440.60,522.01 L441.35,521.99 L442.10,521.98 L442.85,521.96 L443.60,521.95 L444.35,521.93 L445.10,521.92 L445.85,521.90 L446.60,521.89 L447.35,521.87 L448.10,521.86 L448.85,521.84 L449.60,521.83 L450.35,521.81 L451.10,521.80 L451.85,521.79 L452.60,521.77 L453.35,521.76 L454.10,521.74 L454.85,521.73 L455.60,521.71 L456.35,521.70 L457.10,521.68 L457.85,521.67 L458.60,521.65 L459.35,521.63 L460.10,521.62 L460.85,521.60 L461.60,521.58 L462.35,521.56 L463.10,521.54 L463.85,521.52 L464.60,521.50 L465.35,521.48 L466.10,521.46 L466.85,521.43 L467.60,521.40 L468.35,521.38 L469.10,521.35 L469.85,521.31 L470.60,521.28 L471.35,521.24 L472.10,521.21 L472.85,521.16 L473.60,521.12 L474.35,521.07 L475.10,521.02 L475.85,520.96 L476.60,520.90 L477.35,520.84 L478.10,520.77 L478.85,520.70 L479.60,520.62 L480.35,520.53 L481.10,520.44 L481.85,520.34 L482.60,520.23 L483.35,520.12 L484.10,520.00 L484.85,519.87 L485.60,519.73 L486.35,519.58 L487.10,519.41 L487.85,519.24 L488.60,519.06 L489.35,518.86 L490.10,518.65 L490.85,518.42 L491.60,518.18 L492.35,517.93 L493.10,517.65 L493.85,517.36 L494.60,517.04 L495.35,516.71 L496.10,516.35 L496.85,515.97 L497.60,515.57 L498.35,515.14 L499.10,514.68 L499.85,514.19 L500.60,513.66 L501.35,513.11 L502.10,512.51 L502.85,511.88 L503.60,511.21 L504.35,510.49 L505.10,509.73 L505.85,508.92 L506.60,508.05 L507.35,507.13 L508.10,506.16 L508.85,505.12 L509.60,504.02 L510.35,502.85 L511.10,501.61 L511.85,500.30 L512.60,498.92 L513.35,497.45 L514.10,495.91 L514.85,494.28 L515.60,492.57 L516.35,490.77 L517.10,488.88 L517.85,486.91 L518.60,484.85 L519.35,482.69 L520.10,480.46 L520.85,478.13 L521.60,475.73 L522.35,473.24 L523.10,470.68 L523.85,468.05 L524.60,465.35 L525.35,462.60 L526.10,459.79 L526.85,456.93 L527.60,454.04 L528.35,451.12 L529.10,448.18 L529.85,445.23 L530.60,442.28 L531.35,439.34 L532.10,436.41 L532.85,433.52 L533.60,430.67 L534.35,427.86 L535.10,425.10 L535.85,422.41 L536.60,419.79 L537.35,417.24 L538.10,414.78 L538.85,412.39 L539.60,410.10 L540.35,407.89 L541.10,405.77 L541.85,403.74 L542.60,401.81 L543.35,399.95 L544.10,398.19 L544.85,396.51 L545.60,394.92 L546.35,393.40 L547.10,391.97 L547.85,390.62 L548.60,389.35 L549.35,388.16 L550.10,387.06 L550.85,386.06 L551.60,385.15 L552.35,384.35 L553.10,383.66 L553.85,383.10 L554.60,382.67 L555.35,382.39 L556.10,382.26 L556.85,382.31 L557.60,382.54 L558.35,382.97 L559.10,383.59 L559.85,384.43 L560.60,385.49 L561.35,386.77 L562.10,388.28 L562.85,390.01 L563.60,391.96 L564.35,394.12 L565.10,396.49 L565.85,399.05 L566.60,401.79 L567.35,404.69 L568.10,407.74 L568.85,410.91 L569.60,414.18 L570.35,417.54 L571.10,420.95 L571.85,424.41 L572.60,427.88 L573.35,431.35 L574.10,434.79 L574.85,438.20 L575.60,441.55 L576.35,444.83 L577.10,448.03 L577.85,451.14 L578.60,454.15 L579.35,457.05 L580.10,459.85 L580.85,462.54 L581.60,465.11 L582.35,467.58 L583.10,469.93 L583.85,472.18 L584.60,474.33 L585.35,476.38 L586.10,478.34 L586.85,480.22 L587.60,482.01 L588.35,483.72 L589.10,485.37 L589.85,486.94 L590.60,488.45 L591.35,489.91 L592.10,491.31 L592.85,492.66 L593.60,493.96 L594.35,495.22 L595.10,496.44 L595.85,497.61 L596.60,498.75 L597.35,499.85 L598.10,500.91 L598.85,501.94 L599.60,502.94 L600.35,503.91 L601.10,504.84 L601.85,505.74 L602.60,506.61 L603.35,507.45 L604.10,508.26 L604.85,509.05 L605.60,509.80 L606.35,510.52 L607.10,511.22 L607.85,511.89 L608.60,512.53 L609.35,513.14 L610.10,513.73 L610.85,514.29 L611.60,514.82 L612.35,515.33 L613.10,515.81 L613.85,516.26 L614.60,516.69 L615.35,517.10 L616.10,517.47 L616.85,517.82 L617.60,518.15 L618.35,518.45 L619.10,518.72 L619.85,518.97 L620.60,519.19 L621.35,519.39 L622.10,519.56 L622.85,519.71 L623.60,519.84 L624.35,519.95 L625.10,520.04 L625.85,520.11 L626.60,520.16 L627.35,520.21 L628.10,520.24 L628.85,520.26 L629.60,520.29 L630.35,520.30 L631.10,520.32 L631.85,520.35 L632.60,520.37 L633.35,520.41 L634.10,520.45 L634.85,520.50 L635.60,520.56 L636.35,520.62 L637.10,520.70 L637.85,520.78 L638.60,520.87 L639.35,520.96 L640.10,521.06 L640.85,521.16 L641.60,521.26 L642.35,521.35 L643.10,521.45 L643.85,521.54 L644.60,521.62 L645.35,521.70 L646.10,521.77 L646.85,521.84 L647.60,521.90 L648.35,521.95 L649.10,522.00 L649.85,522.04 L650.00,522.05" stroke="#2ca02c"/><path d="M460.00,521.85 L460.75,521.78 L461.50,521.72 L462.25,521.65 L463.00,521.58 L463.75,521.51 L464.50,521.44 L465.25,521.37 L466.00,521.30 L466.75,521.22 L467.50,521.15 L468.25,521.07 L469.00,520.99 L469.75,520.91 L470.50,520.83 L471.25,520.74 L472.00,520.66 L472.75,520.57 L473.50,520.48 L474.25,520.39 L475.00,520.30 L475.75,520.20 L476.50,520.11 L477.25,520.01 L478.00,519.90 L478.75,519.80 L479.50,519.69 L480.25,519.58 L481.00,519.47 L481.75,519.35 L482.50,519.23 L483.25,519.11 L484.00,518.98 L484.75,518.84 L485.50,518.70 L486.25,518.55 L487.00,518.40 L487.75,518.23 L488.50,518.06 L489.25,517.88 L490.00,517.69 L490.75,517.49 L491.50,517.27 L492.25,517.05 L493.00,516.80 L493.75,516.54 L494.50,516.27 L495.25,515.97 L496.00,515.65 L496.75,515.31 L497.50,514.95 L498.25,514.56 L499.00,514.14 L499.75,513.69 L500.50,513.20 L501.25,512.68 L502.00,512.13 L502.75,511.54 L503.50,510.90 L504.25,510.22 L505.00,509.49 L505.75,508.72 L506.50,507.90 L507.25,507.02 L508.00,506.08 L508.75,505.09 L509.50,504.04 L510.25,502.93 L511.00,501.76 L511.75,500.53 L512.50,499.23 L513.25,497.86 L514.00,496.43 L514.75,494.93 L515.50,493.37 L516.25,491.74 L517.00,490.05 L517.75,488.29 L518.50,486.47 L519.25,484.59 L520.00,482.65 L520.75,480.66 L521.50,478.62 L522.25,476.53 L523.00,474.39 L523.75,472.21 L524.50,470.00 L525.25,467.76 L526.00,465.49 L526.75,463.20 L527.50,460.90 L528.25,458.58 L529.00,456.27 L529.75,453.95 L530.50,451.64 L531.25,449.34 L532.00,447.06 L532.75,444.79 L533.50,442.55 L534.25,440.33 L535.00,438.14 L535.75,435.98 L536.50,433.85 L537.25,431.74 L538.00,429.67 L538.75,427.61 L539.50,425.58 L540.25,423.57 L541.00,421.58 L541.75,419.59 L542.50,417.62 L543.25,415.65 L544.00,413.69 L544.75,411.72 L545.50,409.76 L546.25,407.81 L547.00,405.86 L547.75,403.93 L548.50,402.02 L549.25,400.15 L550.00,398.33 L550.75,396.57 L551.50,394.90 L552.25,393.32 L553.00,391.88 L553.75,390.57 L554.50,389.44 L555.25,388.49 L556.00,387.76 L556.75,387.25 L557.50,386.99 L558.25,386.98 L559.00,387.23 L559.75,387.76 L560.50,388.55 L561.25,389.61 L562.00,390.93 L562.75,392.49 L563.50,394.29 L564.25,396.29 L565.00,398.47 L565.75,400.83 L566.50,403.32 L567.25,405.92 L568.00,408.60 L568.75,411.35 L569.50,414.14 L570.25,416.94 L571.00,419.74 L571.75,422.52 L572.50,425.26 L573.25,427.95 L574.00,430.60 L574.75,433.18 L575.50,435.69 L576.25,438.14 L577.00,440.53 L577.75,442.85 L578.50,445.11 L579.25,447.32 L580.00,449.48 L580.75,451.59 L581.50,453.66 L582.25,455.69 L583.00,457.69 L583.75,459.67 L584.50,461.62 L585.25,463.55 L586.00,465.46 L586.75,467.35 L587.50,469.23 L588.25,471.09 L589.00,472.93 L589.75,474.76 L590.50,476.57 L591.25,478.36 L592.00,480.13 L592.75,481.88 L593.50,483.60 L594.25,485.29 L595.00,486.96 L595.75,488.60 L596.50,490.20 L597.25,491.77 L598.00,493.30 L598.75,494.79 L599.50,496.25 L600.25,497.66 L601.00,499.03 L601.75,500.35 L602.50,501.63 L603.25,502.86 L604.00,504.05 L604.75,505.19 L605.50,506.28 L606.25,507.33 L607.00,508.33 L607.75,509.28 L608.50,510.19 L609.25,511.05 L610.00,511.86 L610.75,512.63 L611.50,513.36 L612.25,514.03 L613.00,514.67 L613.75,515.26 L614.50,515.81 L615.25,516.32 L616.00,516.78 L616.75,517.20 L617.50,517.58 L618.25,517.92 L619.00,518.22 L619.75,518.49 L620.50,518.71 L621.25,518.90 L622.00,519.05 L622.75,519.17 L623.50,519.26 L624.25,519.33 L625.00,519.37 L625.75,519.39 L626.50,519.39 L627.25,519.38 L628.00,519.37 L628.75,519.35 L629.50,519.33 L630.25,519.31 L631.00,519.31 L631.75,519.31 L632.50,519.32 L633.25,519.35 L634.00,519.40 L634.75,519.46 L635.50,519.53 L636.25,519.62 L637.00,519.72 L637.75,519.83 L638.50,519.95 L639.25,520.07 L640.00,520.20 L640.75,520.32 L641.50,520.44 L642.25,520.56 L643.00,520.68 L643.75,520.79 L644.50,520.89 L645.25,520.98 L646.00,521.07 L646.75,521.15 L647.50,521.22 L648.25,521.29 L649.00,521.35 L649.75,521.41 L650.50,521.46 L651.25,521.51 L652.00,521.56 L652.75,521.61 L653.50,521.66 L654.25,521.71 L655.00,521.76 L655.75,521.81 L656.50,521.86 L657.25,521.92 L658.00,521.97" stroke="#ff7f0e"/><path d="M461.00,522.81 L461.75,522.78 L462.50,522.74 L463.25,522.70 L464.00,522.65 L464.75,522.61 L465.50,522.56 L466.25,522.51 L467.00,522.46 L467.75,522.41 L468.50,522.36 L469.25,522.30 L470.00,522.25 L470.75,522.19 L471.50,522.12 L472.25,522.06 L473.00,521.99 L473.75,521.92 L474.50,521.84 L475.25,521.76 L476.00,521.68 L476.75,521.60 L477.50,521.51 L478.25,521.42 L479.00,521.32 L479.75,521.22 L480.50,521.11 L481.25,521.00 L482.00,520.88 L482.75,520.76 L483.50,520.63 L484.25,520.50 L485.00,520.36 L485.75,520.21 L486.50,520.06 L487.25,519.89 L488.00,519.72 L488.75,519.54 L489.50,519.36 L490.25,519.16 L491.00,518.96 L491.75,518.74 L492.50,518.51 L493.25,518.28 L494.00,518.03 L494.75,517.76 L495.50,517.49 L496.25,517.20 L497.00,516.89 L497.75,516.58 L498.50,516.24 L499.25,515.89 L500.00,515.52 L500.75,515.13 L501.50,514.72 L502.25,514.29 L503.00,513.83 L503.75,513.35 L504.50,512.84 L505.25,512.31 L506.00,511.75 L506.75,511.15 L507.50,510.51 L508.25,509.84 L509.00,509.13 L509.75,508.37 L510.50,507.55 L511.25,506.68 L512.00,505.75 L512.75,504.75 L513.50,503.67 L514.25,502.51 L515.00,501.26 L515.75,499.91 L516.50,498.45 L517.25,496.87 L518.00,495.16 L518.75,493.33 L519.50,491.35 L520.25,489.24 L521.00,486.97 L521.75,484.56 L522.50,482.01 L523.25,479.32 L524.00,476.50 L524.75,473.56 L525.50,470.51 L526.25,467.38 L527.00,464.19 L527.75,460.95 L528.50,457.69 L529.25,454.43 L530.00,451.20 L530.75,448.02 L531.50,444.90 L532.25,441.87 L533.00,438.95 L533.75,436.13 L534.50,433.43 L535.25,430.85 L536.00,428.39 L536.75,426.04 L537.50,423.79 L538.25,421.63 L539.00,419.55 L539.75,417.54 L540.50,415.58 L541.25,413.65 L542.00,411.76 L542.75,409.88 L543.50,408.02 L544.25,406.17 L545.00,404.33 L545.75,402.50 L546.50,400.68 L547.25,398.90 L548.00,397.15 L548.75,395.45 L549.50,393.81 L550.25,392.24 L551.00,390.77 L551.75,389.40 L552.50,388.16 L553.25,387.04 L554.00,386.08 L554.75,385.27 L555.50,384.62 L556.25,384.15 L557.00,383.87 L557.75,383.78 L558.50,383.87 L559.25,384.16 L560.00,384.65 L560.75,385.34 L561.50,386.21 L562.25,387.28 L563.00,388.54 L563.75,389.98 L564.50,391.59 L565.25,393.37 L566.00,395.31 L566.75,397.40 L567.50,399.64 L568.25,402.01 L569.00,404.50 L569.75,407.10 L570.50,409.81 L571.25,412.60 L572.00,415.47 L572.75,418.41 L573.50,421.40 L574.25,424.44 L575.00,427.52 L575.75,430.61 L576.50,433.72 L577.25,436.84 L578.00,439.94 L578.75,443.03 L579.50,446.10 L580.25,449.14 L581.00,452.13 L581.75,455.08 L582.50,457.98 L583.25,460.82 L584.00,463.60 L584.75,466.31 L585.50,468.95 L586.25,471.51 L587.00,474.00 L587.75,476.41 L588.50,478.74 L589.25,480.98 L590.00,483.15 L590.75,485.23 L591.50,487.23 L592.25,489.14 L593.00,490.98 L593.75,492.74 L594.50,494.41 L595.25,496.02 L596.00,497.54 L596.75,498.99 L597.50,500.38 L598.25,501.69 L599.00,502.94 L599.75,504.12 L600.50,505.24 L601.25,506.31 L602.00,507.31 L602.75,508.27 L603.50,509.17 L604.25,510.02 L605.00,510.83 L605.75,511.59 L606.50,512.31 L607.25,512.99 L608.00,513.63 L608.75,514.23 L609.50,514.80 L610.25,515.34 L611.00,515.85 L611.75,516.32 L612.50,516.77 L613.25,517.19 L614.00,517.59 L614.75,517.96 L615.50,518.30 L616.25,518.63 L617.00,518.93 L617.75,519.21 L618.50,519.47 L619.25,519.71 L620.00,519.93 L620.75,520.13 L621.50,520.31 L622.25,520.48 L623.00,520.63 L623.75,520.76 L624.50,520.87 L625.25,520.97 L626.00,521.06 L626.75,521.14 L627.50,521.20 L628.25,521.25 L629.00,521.30 L629.75,521.33 L630.50,521.36 L631.25,521.38 L632.00,521.40 L632.75,521.42 L633.50,521.43 L634.25,521.45 L635.00,521.46 L635.75,521.48 L636.50,521.50 L637.25,521.52 L638.00,521.54 L638.75,521.57 L639.50,521.60 L640.25,521.63 L641.00,521.66 L641.75,521.70 L642.50,521.73 L643.25,521.77 L644.00,521.80 L644.75,521.84 L645.50,521.88 L646.25,521.91 L647.00,521.94 L647.75,521.98 L648.50,522.01 L649.25,522.04 L650.00,522.06 L650.75,522.09 L651.50,522.12 L652.25,522.14 L653.00,522.17" stroke="#1f77b4"/><line x1="543.80" y1="523.90" x2="543.80" y2="305.90" stroke="#000" stroke-width="2.98" stroke-dasharray="2.98 4.93"/></g><path d="M414.30,523.90v6.9M432.80,523.90v6.9M451.30,523.90v6.9M469.80,523.90v6.9M488.30,523.90v6.9M506.80,523.90v6.9M525.30,523.90v6.9M543.80,523.90v6.9M562.30,523.90v6.9M580.80,523.90v6.9M599.30,523.90v6.9M617.80,523.90v6.9M636.30,523.90v6.9M654.80,523.90v6.9M673.30,523.90v6.9M398.30,523.90h-6.9M398.30,465.76h-6.9M398.30,407.62h-6.9M398.30,349.48h-6.9" stroke="#000" stroke-width="1.5" fill="none"/><path d="M405.05,523.90v3.8M423.55,523.90v3.8M442.05,523.90v3.8M460.55,523.90v3.8M479.05,523.90v3.8M497.55,523.90v3.8M516.05,523.90v3.8M534.55,523.90v3.8M553.05,523.90v3.8M571.55,523.90v3.8M590.05,523.90v3.8M608.55,523.90v3.8M627.05,523.90v3.8M645.55,523.90v3.8M664.05,523.90v3.8" stroke="#000" stroke-width="1.15" fill="none"/><rect x="398.30" y="305.90" width="278.70" height="218.00" fill="none" stroke="#000" stroke-width="1.6"/><text x="414.30" y="548.00" font-size="14.84" text-anchor="middle" textLength="20.64" lengthAdjust="spacingAndGlyphs">−7</text><text x="432.80" y="548.00" font-size="14.84" text-anchor="middle" textLength="20.64" lengthAdjust="spacingAndGlyphs">−6</text><text x="451.30" y="548.00" font-size="14.84" text-anchor="middle" textLength="20.64" lengthAdjust="spacingAndGlyphs">−5</text><text x="469.80" y="548.00" font-size="14.84" text-anchor="middle" textLength="20.64" lengthAdjust="spacingAndGlyphs">−4</text><text x="488.30" y="548.00" font-size="14.84" text-anchor="middle" textLength="20.64" lengthAdjust="spacingAndGlyphs">−3</text><text x="506.80" y="548.00" font-size="14.84" text-anchor="middle" textLength="20.64" lengthAdjust="spacingAndGlyphs">−2</text><text x="525.30" y="548.00" font-size="14.84" text-anchor="middle" textLength="20.64" lengthAdjust="spacingAndGlyphs">−1</text><text x="543.80" y="548.00" font-size="14.84" text-anchor="middle" textLength="8.91" lengthAdjust="spacingAndGlyphs">0</text><text x="562.30" y="548.00" font-size="14.84" text-anchor="middle" textLength="8.91" lengthAdjust="spacingAndGlyphs">1</text><text x="580.80" y="548.00" font-size="14.84" text-anchor="middle" textLength="8.91" lengthAdjust="spacingAndGlyphs">2</text><text x="599.30" y="548.00" font-size="14.84" text-anchor="middle" textLength="8.91" lengthAdjust="spacingAndGlyphs">3</text><text x="617.80" y="548.00" font-size="14.84" text-anchor="middle" textLength="8.91" lengthAdjust="spacingAndGlyphs">4</text><text x="636.30" y="548.00" font-size="14.84" text-anchor="middle" textLength="8.91" lengthAdjust="spacingAndGlyphs">5</text><text x="654.80" y="548.00" font-size="14.84" text-anchor="middle" textLength="8.91" lengthAdjust="spacingAndGlyphs">6</text><text x="673.30" y="548.00" font-size="14.84" text-anchor="middle" textLength="8.91" lengthAdjust="spacingAndGlyphs">7</text><text x="537.65" y="571.40" font-size="16.96" text-anchor="middle" textLength="234.06" lengthAdjust="spacingAndGlyphs">free − school (duration) (hrs)</text><text transform="translate(412.83,331.40) scale(0.215,0.201)" font-size="100" font-weight="bold" stroke="#000" stroke-width="3.4" stroke-linejoin="round">D</text></g><g transform="translate(14.1,262.2) rotate(-90)"><text x="0.00" y="0.00" font-size="19.08" text-anchor="middle" textLength="66.00" lengthAdjust="spacingAndGlyphs">density</text></g><g><rect x="57.2" y="602.4" width="574.1" height="50.3" rx="2.5" fill="#fff" stroke="#d6d6d6" stroke-width="1.5"/><line x1="61.75" y1="615.30" x2="96.75" y2="615.30" stroke="#1f77b4" stroke-width="2.9"/><text x="107.85" y="620.90" font-size="16.96" text-anchor="start" textLength="63.19" lengthAdjust="spacingAndGlyphs">Monday</text><line x1="61.75" y1="638.50" x2="96.75" y2="638.50" stroke="#ff7f0e" stroke-width="2.9"/><text x="107.85" y="644.10" font-size="16.96" text-anchor="start" textLength="65.17" lengthAdjust="spacingAndGlyphs">Tuesday</text><line x1="202.80" y1="615.30" x2="237.80" y2="615.30" stroke="#2ca02c" stroke-width="2.9"/><text x="248.90" y="620.90" font-size="16.96" text-anchor="start" textLength="92.72" lengthAdjust="spacingAndGlyphs">Wednesday</text><line x1="202.80" y1="638.50" x2="237.80" y2="638.50" stroke="#d62728" stroke-width="2.9"/><text x="248.90" y="644.10" font-size="16.96" text-anchor="start" textLength="74.42" lengthAdjust="spacingAndGlyphs">Thursday</text><line x1="371.00" y1="615.30" x2="406.00" y2="615.30" stroke="#9467bd" stroke-width="2.9"/><text x="417.10" y="620.90" font-size="16.96" text-anchor="start" textLength="48.55" lengthAdjust="spacingAndGlyphs">Friday</text><line x1="371.00" y1="638.50" x2="406.00" y2="638.50" stroke="#8c564b" stroke-width="2.9"/><text x="417.10" y="644.10" font-size="16.96" text-anchor="start" textLength="72.16" lengthAdjust="spacingAndGlyphs">Saturday</text><line x1="519.00" y1="615.30" x2="554.00" y2="615.30" stroke="#e377c2" stroke-width="2.9"/><text x="565.10" y="620.90" font-size="16.96" text-anchor="start" textLength="59.88" lengthAdjust="spacingAndGlyphs">Sunday</text></g></svg></body></html>
